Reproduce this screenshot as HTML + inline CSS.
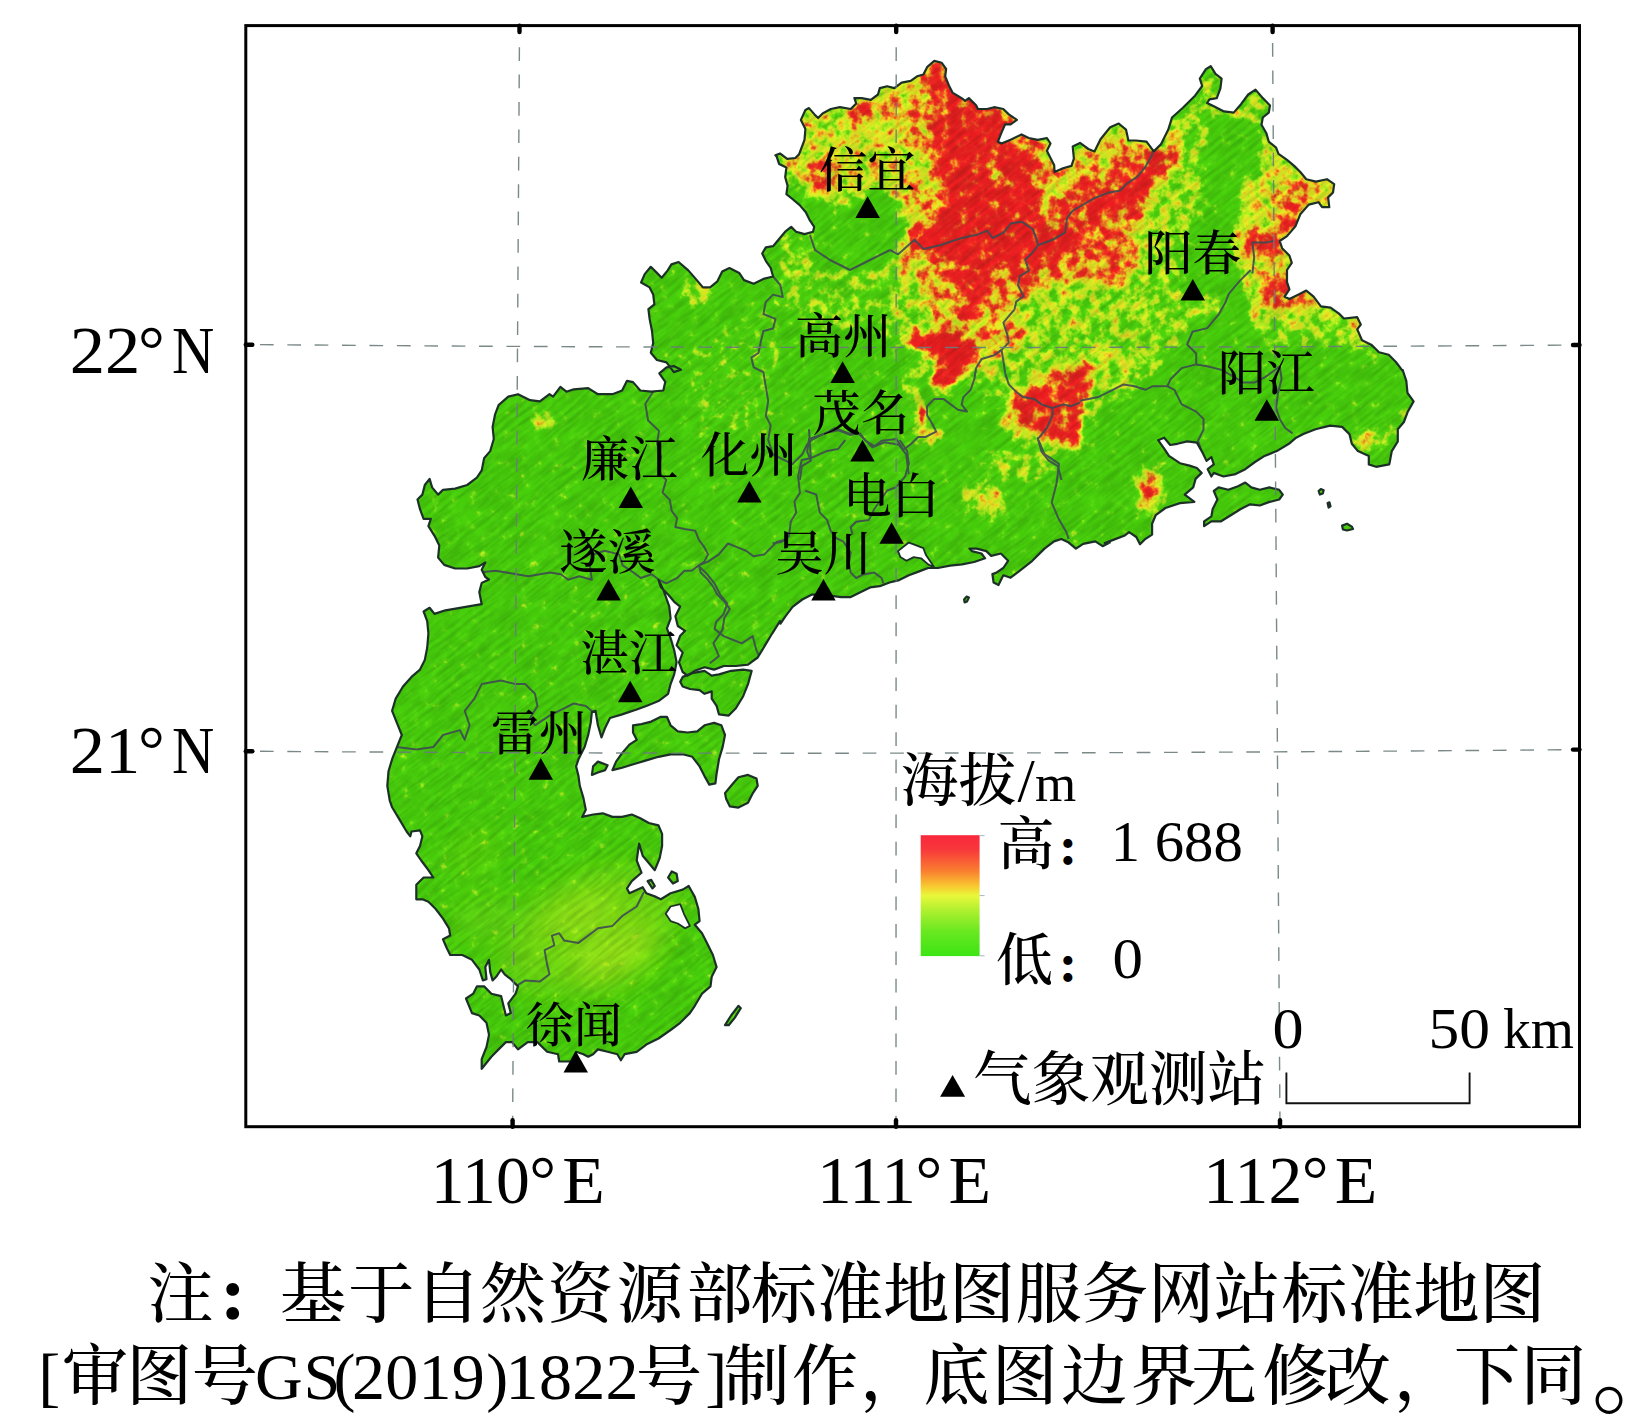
<!DOCTYPE html>
<html lang="zh"><head><meta charset="utf-8"><title>map</title>
<style>
html,body{margin:0;padding:0;background:#fff;}
body{width:1652px;height:1421px;overflow:hidden;position:relative;}
svg{position:absolute;left:0;top:0;display:block;}
.cj{font-family:"Liberation Serif","Noto Serif CJK SC",serif;fill:#000;font-weight:500;}
.lt{font-family:"Liberation Serif",serif;fill:#000;}
</style></head><body>
<svg width="1652" height="1421" viewBox="0 0 1652 1421">
<defs>
<clipPath id="land"><path d="M775.4,155.3 L780.0,153.5 L787.2,158.9 L795.4,158.0 L799.0,154.4 L804.5,139.8 L805.4,129.0 L800.9,119.9 L805.4,109.9 L809.0,108.1 L814.5,114.4 L818.1,118.1 L822.6,113.5 L830.8,109.0 L839.9,107.2 L850.8,109.0 L856.2,103.5 L854.4,98.1 L861.7,98.1 L870.8,99.9 L878.0,94.5 L879.8,88.1 L887.1,86.3 L894.4,88.1 L901.6,82.6 L910.7,80.8 L917.1,76.3 L923.4,74.5 L927.1,67.2 L934.3,60.9 L941.6,62.7 L946.1,69.0 L945.2,76.3 L948.9,85.4 L952.5,92.6 L961.6,98.1 L965.2,100.8 L968.8,98.1 L976.1,105.3 L977.9,109.0 L987.0,109.0 L994.2,107.2 L1003.3,109.0 L1008.8,114.4 L1016.9,119.9 L1010.6,124.4 L1005.1,124.4 L1001.5,132.6 L997.9,141.7 L1001.5,143.5 L1010.6,139.8 L1021.5,134.4 L1028.7,138.0 L1037.8,139.8 L1046.9,138.0 L1050.5,143.5 L1046.9,150.7 L1050.5,158.0 L1054.2,165.3 L1054.5,172.0 L1063.0,168.3 L1071.5,165.9 L1073.9,158.6 L1072.7,146.5 L1080.0,142.9 L1088.4,149.0 L1094.5,151.4 L1100.5,139.3 L1110.2,127.2 L1118.7,123.5 L1126.0,129.6 L1128.4,140.5 L1135.6,140.5 L1146.5,141.7 L1153.8,151.4 L1161.1,144.1 L1168.3,129.6 L1172.0,117.5 L1182.9,107.8 L1195.0,95.7 L1202.2,86.0 L1199.8,78.7 L1205.9,69.1 L1210.7,66.2 L1215.5,73.9 L1221.6,78.7 L1220.4,88.4 L1216.8,98.1 L1209.5,99.3 L1207.1,103.0 L1214.3,106.6 L1224.0,111.4 L1233.7,112.6 L1241.0,104.2 L1248.2,94.5 L1255.5,89.6 L1262.8,98.1 L1270.0,105.4 L1268.8,112.6 L1262.8,117.5 L1261.5,124.7 L1266.4,133.2 L1268.8,141.7 L1276.1,147.7 L1278.5,153.8 L1287.0,159.9 L1294.2,165.9 L1300.3,172.0 L1306.3,179.2 L1316.0,181.6 L1326.9,179.2 L1334.2,184.1 L1333.0,192.5 L1328.1,197.4 L1329.3,207.1 L1322.1,207.1 L1318.5,202.2 L1308.8,204.6 L1300.3,214.3 L1295.4,226.4 L1287.0,236.1 L1279.7,241.0 L1282.1,248.2 L1289.4,255.5 L1291.8,262.8 L1287.0,270.0 L1287.0,282.1 L1289.4,289.4 L1284.6,296.7 L1289.4,299.1 L1299.1,294.2 L1306.3,290.6 L1313.6,296.7 L1320.9,306.3 L1330.6,307.6 L1339.0,313.6 L1343.9,318.5 L1357.2,317.2 L1360.8,324.5 L1357.2,329.3 L1362.0,340.2 L1371.7,345.1 L1379.0,352.3 L1388.7,354.8 L1395.9,362.0 L1403.2,371.7 L1402.7,370.0 L1406.3,380.8 L1407.5,393.0 L1413.6,401.4 L1407.5,412.3 L1403.9,422.0 L1397.8,429.3 L1397.8,441.4 L1391.8,451.1 L1389.3,464.4 L1376.0,466.8 L1368.8,464.4 L1368.8,455.9 L1357.9,451.1 L1351.8,443.8 L1349.4,434.1 L1342.1,426.9 L1330.0,425.6 L1315.5,429.3 L1303.4,434.1 L1296.1,437.7 L1288.9,443.8 L1276.8,451.1 L1264.6,455.9 L1255.0,462.0 L1245.3,469.2 L1235.6,474.1 L1223.5,476.5 L1213.8,472.9 L1211.4,476.5 L1207.7,469.2 L1213.8,464.4 L1211.4,457.1 L1206.5,460.8 L1201.7,451.1 L1196.9,442.6 L1187.2,441.4 L1177.5,443.8 L1170.2,445.0 L1164.2,437.7 L1158.1,440.2 L1164.2,448.6 L1169.0,455.9 L1179.9,463.2 L1189.6,465.6 L1196.9,468.0 L1201.7,472.9 L1195.6,478.9 L1193.2,487.4 L1184.7,494.6 L1194.4,501.9 L1179.9,503.1 L1165.4,508.0 L1155.7,515.2 L1152.1,523.7 L1152.1,534.6 L1144.8,539.4 L1140.0,544.3 L1136.3,537.0 L1129.1,532.2 L1124.2,535.8 L1114.5,539.4 L1104.8,543.1 L1109.8,542.6 L1102.6,546.2 L1095.3,541.4 L1083.2,543.8 L1075.9,548.6 L1068.7,542.6 L1061.4,539.0 L1054.1,541.4 L1044.5,548.6 L1032.3,560.8 L1020.2,570.4 L1010.6,577.7 L1003.3,575.3 L998.5,585.0 L993.6,582.5 L992.4,574.1 L996.0,572.9 L1003.3,568.0 L1008.1,560.8 L1000.9,553.5 L991.2,555.9 L986.3,551.1 L976.7,548.6 L969.4,548.6 L971.8,551.1 L981.5,553.5 L985.1,558.3 L974.2,562.0 L962.1,564.4 L950.0,565.6 L937.9,568.0 L928.2,568.0 L918.5,571.6 L908.9,575.3 L899.2,580.1 L889.5,582.5 L879.8,586.2 L870.1,587.4 L860.4,592.2 L850.8,597.1 L841.1,597.1 L831.4,595.9 L821.7,594.6 L812.0,594.6 L802.3,599.5 L792.6,606.8 L785.4,616.4 L780.5,623.7 L780.0,621.2 L772.3,633.3 L765.0,645.4 L757.7,657.5 L748.0,664.7 L735.9,666.0 L723.8,666.0 L714.1,669.6 L704.5,667.2 L694.8,670.8 L687.5,675.6 L682.7,672.0 L679.0,662.3 L682.7,652.6 L676.6,645.4 L680.2,635.7 L685.1,630.8 L677.8,626.0 L675.4,616.3 L680.2,606.6 L674.2,601.8 L668.1,594.5 L660.9,587.3 L658.5,580.0 L663.3,589.7 L669.3,606.6 L670.6,618.7 L666.9,628.4 L670.6,638.1 L674.2,650.2 L676.6,662.3 L674.2,674.4 L670.6,684.1 L668.1,693.8 L658.5,701.1 L646.3,705.9 L636.7,709.5 L622.1,714.4 L610.0,718.0 L605.2,727.7 L601.5,737.4 L597.9,725.3 L595.5,710.8 L591.9,712.0 L590.7,722.9 L588.2,735.0 L584.6,747.1 L578.5,759.2 L576.1,766.4 L578.5,776.1 L579.8,785.8 L583.4,797.9 L585.8,809.7 L582.2,816.9 L593.1,814.5 L602.8,813.3 L612.4,816.9 L622.1,816.9 L631.8,814.5 L640.3,818.2 L648.8,823.0 L658.5,825.4 L662.1,833.9 L662.1,846.0 L659.7,858.1 L654.8,870.2 L648.8,863.0 L642.7,855.7 L639.1,843.6 L636.7,860.5 L641.5,872.6 L631.8,881.1 L627.0,888.4 L629.4,893.2 L642.7,887.2 L646.3,893.2 L656.0,896.9 L660.9,899.3 L670.6,893.2 L682.7,889.6 L688.7,886.0 L694.8,896.9 L698.4,909.0 L699.6,921.1 L694.8,924.7 L702.0,933.2 L708.1,945.3 L712.9,955.0 L716.6,967.1 L711.7,976.8 L710.5,986.4 L702.0,993.7 L694.8,1005.8 L689.9,1013.1 L680.2,1022.8 L670.6,1030.0 L658.5,1038.5 L646.3,1044.6 L636.7,1051.8 L624.6,1054.2 L620.9,1060.3 L617.3,1054.2 L607.6,1051.8 L597.9,1049.4 L593.1,1054.2 L588.2,1056.7 L583.4,1054.2 L576.1,1051.8 L571.3,1061.5 L559.2,1061.5 L558.0,1054.2 L547.1,1051.8 L537.4,1042.1 L527.7,1042.1 L518.0,1049.4 L512.0,1042.1 L505.9,1042.1 L498.6,1049.4 L491.4,1056.7 L481.7,1068.8 L481.7,1059.1 L486.5,1047.0 L489.0,1034.9 L486.5,1022.8 L479.3,1015.5 L472.0,1013.1 L466.0,998.5 L473.2,993.7 L476.9,986.4 L484.1,986.4 L491.4,993.7 L501.1,996.1 L503.5,1005.8 L505.9,1015.5 L510.8,1013.1 L508.3,1003.4 L515.6,993.7 L518.0,986.4 L510.8,979.2 L504.7,974.3 L501.1,969.5 L496.2,976.8 L492.6,980.4 L490.2,971.9 L489.0,959.8 L485.3,967.1 L486.5,979.2 L482.9,980.4 L479.3,969.5 L472.0,959.8 L462.3,955.0 L450.2,955.0 L446.6,947.7 L443.0,939.2 L450.2,935.6 L449.0,928.3 L443.0,918.6 L435.7,909.0 L428.4,901.7 L422.4,899.3 L416.3,899.3 L416.3,884.7 L423.6,877.5 L433.3,877.5 L428.4,870.2 L421.2,860.5 L416.3,853.3 L420.0,846.0 L422.4,836.3 L420.0,830.3 L411.5,831.5 L410.3,836.3 L406.6,831.5 L399.4,819.4 L392.1,807.3 L389.7,800.3 L387.3,785.8 L388.5,771.3 L392.1,759.2 L396.9,747.1 L401.8,735.0 L396.9,722.9 L392.1,710.8 L395.7,698.6 L403.0,686.5 L411.5,676.9 L420.0,669.6 L424.8,659.9 L427.2,647.8 L428.4,633.3 L427.2,621.2 L423.6,611.5 L429.6,607.8 L434.5,613.9 L445.4,610.3 L459.9,607.8 L474.4,605.4 L481.7,604.2 L479.3,592.1 L481.7,583.0 L489.0,579.4 L485.3,577.0 L481.7,569.7 L485.3,562.4 L479.3,566.1 L467.2,568.5 L455.1,568.5 L444.2,564.9 L438.1,557.6 L439.3,545.5 L434.5,535.8 L428.4,526.1 L430.8,518.9 L423.6,518.9 L420.0,509.2 L417.5,499.5 L422.4,494.6 L424.8,485.0 L429.6,478.9 L432.1,487.4 L438.1,494.6 L443.0,489.8 L455.1,488.6 L467.2,485.0 L476.9,477.7 L481.7,470.4 L484.1,458.3 L490.2,451.1 L493.8,439.0 L492.6,426.9 L495.0,414.7 L498.6,405.1 L508.3,396.6 L518.0,394.2 L530.1,400.2 L539.8,401.4 L549.5,394.2 L553.1,396.6 L560.4,386.9 L566.4,391.7 L573.7,389.3 L588.2,388.1 L597.9,394.2 L612.4,394.2 L622.1,390.5 L627.0,380.8 L633.0,382.1 L640.3,390.5 L651.2,391.7 L663.3,390.5 L665.3,381.8 L659.3,373.3 L666.5,367.3 L673.8,366.1 L681.1,369.7 L673.8,372.1 L666.5,362.4 L656.9,360.0 L650.8,352.8 L653.2,343.1 L652.0,331.0 L649.6,318.9 L648.4,309.2 L654.4,304.3 L653.2,294.6 L649.6,287.4 L641.1,282.5 L644.7,274.1 L650.8,266.8 L656.9,272.9 L661.7,277.7 L667.7,270.4 L671.4,264.4 L678.6,262.0 L688.3,270.4 L696.8,280.1 L702.9,287.4 L710.1,287.4 L717.4,281.3 L722.2,271.6 L729.5,268.0 L739.2,272.9 L744.0,280.1 L753.7,283.8 L763.4,278.9 L773.1,276.5 L770.7,268.0 L765.8,260.8 L762.2,253.5 L765.8,247.4 L773.1,246.2 L779.1,239.0 L785.2,231.7 L791.2,226.9 L796.1,231.7 L804.6,234.1 L813.0,231.7 L814.2,226.9 L809.4,219.6 L805.8,212.3 L799.7,205.1 L792.4,199.0 L786.4,194.2 L787.6,185.7 L785.2,177.2 L786.4,167.5 L779.1,163.9 L776.7,156.6Z"/>
<path d="M1213.8,491.0 L1218.6,487.4 L1228.3,489.8 L1238.0,486.2 L1245.3,482.5 L1251.3,487.4 L1259.8,489.8 L1269.5,487.4 L1279.2,489.8 L1282.8,494.6 L1279.2,499.5 L1269.5,501.9 L1259.8,505.5 L1250.1,504.3 L1240.4,509.2 L1230.8,515.2 L1221.1,521.3 L1211.4,521.3 L1204.1,526.1 L1204.1,521.3 L1211.4,516.4 L1212.6,509.2 L1217.4,499.5Z"/>
<path d="M1318.6,491.0 L1320.8,489.1 L1323.7,490.3 L1322.8,493.4 L1319.9,494.6Z"/>
<path d="M1327.6,503.1 L1329.5,502.4 L1330.5,506.3 L1328.6,507.5Z"/>
<path d="M1342.1,525.6 L1347.0,523.7 L1351.8,526.6 L1353.0,529.0 L1347.0,530.5 L1342.9,529.5Z"/>
<path d="M964.1,599.5 L966.5,596.6 L968.9,597.6 L967.0,601.4 L964.6,602.4Z"/>
<path d="M682.7,676.9 L692.3,673.2 L704.5,670.8 L711.7,675.6 L719.0,674.4 L731.1,670.8 L743.2,669.6 L751.7,670.8 L748.0,684.1 L743.2,696.2 L735.9,708.3 L728.7,715.6 L719.0,714.4 L716.6,705.9 L711.7,698.6 L711.7,691.4 L704.5,693.8 L699.6,690.2 L689.9,689.0 L682.7,686.5 L680.2,681.7Z"/>
<path d="M633.0,725.3 L641.5,724.1 L651.2,721.6 L660.9,716.8 L666.9,716.8 L670.6,725.3 L677.8,731.3 L687.5,732.5 L697.2,731.3 L704.5,725.3 L714.1,722.9 L721.4,725.3 L725.0,735.0 L722.6,747.1 L719.0,759.2 L716.6,773.7 L715.4,783.4 L709.3,784.6 L704.5,776.1 L699.6,766.4 L692.3,756.8 L682.7,754.3 L670.6,754.3 L658.5,756.8 L646.3,760.4 L634.2,764.0 L622.1,767.7 L612.4,770.1 L616.1,761.6 L622.1,753.1 L629.4,744.6 L636.7,739.8 L633.0,732.5Z"/>
<path d="M593.1,766.4 L597.9,761.6 L607.6,765.2 L605.2,770.1 L597.9,772.5 L591.9,774.9Z"/>
<path d="M725.0,793.1 L731.1,785.8 L738.4,777.3 L748.0,774.9 L756.5,778.5 L757.7,785.8 L752.9,793.1 L748.0,802.8 L738.4,807.6 L729.9,806.4 L726.2,799.1Z"/>
<path d="M725.0,1025.2 L731.1,1015.5 L738.4,1005.8 L740.8,1008.2 L734.7,1017.9 L728.7,1025.2Z"/>
<path d="M668.1,877.5 L671.8,871.4 L676.6,873.8 L677.8,881.1 L673.0,883.5Z"/>
<path d="M647.6,881.1 L651.2,879.9 L654.8,886.0 L652.4,888.4Z"/>
</clipPath>
<linearGradient id="lg" x1="0" y1="0" x2="0" y2="1">
<stop offset="0" stop-color="#f8283c"/><stop offset="0.12" stop-color="#f8383a"/><stop offset="0.3" stop-color="#fa8030"/><stop offset="0.42" stop-color="#f8c830"/><stop offset="0.5" stop-color="#e8f83a"/><stop offset="0.62" stop-color="#b0f030"/><stop offset="0.8" stop-color="#68e820"/><stop offset="1" stop-color="#3ce414"/></linearGradient>
<filter id="b14" x="300" y="0" width="1200" height="1130" filterUnits="userSpaceOnUse"><feGaussianBlur stdDeviation="14"/></filter>
<filter id="streak" x="-1200" y="-200" width="3200" height="2600" filterUnits="userSpaceOnUse" color-interpolation-filters="sRGB">
<feTurbulence type="fractalNoise" baseFrequency="0.03 0.26" numOctaves="2" seed="11"/>
<feColorMatrix type="matrix" values="0 0 0 0 0.02  0 0 0 0 0.12  0 0 0 0 0.02  2.2 0 0 0 -0.75"/>
</filter>
<filter id="dem" x="300" y="0" width="1200" height="1130" filterUnits="userSpaceOnUse" color-interpolation-filters="sRGB">
<feGaussianBlur in="SourceGraphic" stdDeviation="5" result="e"/>
<feTurbulence type="fractalNoise" baseFrequency="0.1" numOctaves="3" seed="3" result="n"/>
<feColorMatrix in="n" type="matrix" values="1 0 0 0 0  1 0 0 0 0  1 0 0 0 0  0 0 0 0 1" result="ng"/>
<feComposite in="e" in2="ng" operator="arithmetic" k1="0" k2="0.8" k3="0.7" k4="-0.3" result="h"/>
<feComponentTransfer in="h">
<feFuncR type="table" tableValues="0.282 0.290 0.298 0.310 0.337 0.471 0.675 0.800 0.878 0.933 0.965 0.969 0.961 0.953 0.945 0.941 0.933 0.922 0.910 0.902 0.894"/>
<feFuncG type="table" tableValues="0.808 0.820 0.827 0.835 0.851 0.894 0.933 0.945 0.941 0.894 0.745 0.518 0.298 0.180 0.141 0.125 0.118 0.114 0.110 0.110 0.110"/>
<feFuncB type="table" tableValues="0.047 0.051 0.055 0.055 0.063 0.086 0.118 0.137 0.145 0.145 0.141 0.141 0.141 0.141 0.137 0.133 0.129 0.125 0.122 0.118 0.118"/>
</feComponentTransfer>
</filter>
</defs>
<rect width="1652" height="1421" fill="#fff"/>
<g fill="#50d410">
<path d="M775.4,155.3 L780.0,153.5 L787.2,158.9 L795.4,158.0 L799.0,154.4 L804.5,139.8 L805.4,129.0 L800.9,119.9 L805.4,109.9 L809.0,108.1 L814.5,114.4 L818.1,118.1 L822.6,113.5 L830.8,109.0 L839.9,107.2 L850.8,109.0 L856.2,103.5 L854.4,98.1 L861.7,98.1 L870.8,99.9 L878.0,94.5 L879.8,88.1 L887.1,86.3 L894.4,88.1 L901.6,82.6 L910.7,80.8 L917.1,76.3 L923.4,74.5 L927.1,67.2 L934.3,60.9 L941.6,62.7 L946.1,69.0 L945.2,76.3 L948.9,85.4 L952.5,92.6 L961.6,98.1 L965.2,100.8 L968.8,98.1 L976.1,105.3 L977.9,109.0 L987.0,109.0 L994.2,107.2 L1003.3,109.0 L1008.8,114.4 L1016.9,119.9 L1010.6,124.4 L1005.1,124.4 L1001.5,132.6 L997.9,141.7 L1001.5,143.5 L1010.6,139.8 L1021.5,134.4 L1028.7,138.0 L1037.8,139.8 L1046.9,138.0 L1050.5,143.5 L1046.9,150.7 L1050.5,158.0 L1054.2,165.3 L1054.5,172.0 L1063.0,168.3 L1071.5,165.9 L1073.9,158.6 L1072.7,146.5 L1080.0,142.9 L1088.4,149.0 L1094.5,151.4 L1100.5,139.3 L1110.2,127.2 L1118.7,123.5 L1126.0,129.6 L1128.4,140.5 L1135.6,140.5 L1146.5,141.7 L1153.8,151.4 L1161.1,144.1 L1168.3,129.6 L1172.0,117.5 L1182.9,107.8 L1195.0,95.7 L1202.2,86.0 L1199.8,78.7 L1205.9,69.1 L1210.7,66.2 L1215.5,73.9 L1221.6,78.7 L1220.4,88.4 L1216.8,98.1 L1209.5,99.3 L1207.1,103.0 L1214.3,106.6 L1224.0,111.4 L1233.7,112.6 L1241.0,104.2 L1248.2,94.5 L1255.5,89.6 L1262.8,98.1 L1270.0,105.4 L1268.8,112.6 L1262.8,117.5 L1261.5,124.7 L1266.4,133.2 L1268.8,141.7 L1276.1,147.7 L1278.5,153.8 L1287.0,159.9 L1294.2,165.9 L1300.3,172.0 L1306.3,179.2 L1316.0,181.6 L1326.9,179.2 L1334.2,184.1 L1333.0,192.5 L1328.1,197.4 L1329.3,207.1 L1322.1,207.1 L1318.5,202.2 L1308.8,204.6 L1300.3,214.3 L1295.4,226.4 L1287.0,236.1 L1279.7,241.0 L1282.1,248.2 L1289.4,255.5 L1291.8,262.8 L1287.0,270.0 L1287.0,282.1 L1289.4,289.4 L1284.6,296.7 L1289.4,299.1 L1299.1,294.2 L1306.3,290.6 L1313.6,296.7 L1320.9,306.3 L1330.6,307.6 L1339.0,313.6 L1343.9,318.5 L1357.2,317.2 L1360.8,324.5 L1357.2,329.3 L1362.0,340.2 L1371.7,345.1 L1379.0,352.3 L1388.7,354.8 L1395.9,362.0 L1403.2,371.7 L1402.7,370.0 L1406.3,380.8 L1407.5,393.0 L1413.6,401.4 L1407.5,412.3 L1403.9,422.0 L1397.8,429.3 L1397.8,441.4 L1391.8,451.1 L1389.3,464.4 L1376.0,466.8 L1368.8,464.4 L1368.8,455.9 L1357.9,451.1 L1351.8,443.8 L1349.4,434.1 L1342.1,426.9 L1330.0,425.6 L1315.5,429.3 L1303.4,434.1 L1296.1,437.7 L1288.9,443.8 L1276.8,451.1 L1264.6,455.9 L1255.0,462.0 L1245.3,469.2 L1235.6,474.1 L1223.5,476.5 L1213.8,472.9 L1211.4,476.5 L1207.7,469.2 L1213.8,464.4 L1211.4,457.1 L1206.5,460.8 L1201.7,451.1 L1196.9,442.6 L1187.2,441.4 L1177.5,443.8 L1170.2,445.0 L1164.2,437.7 L1158.1,440.2 L1164.2,448.6 L1169.0,455.9 L1179.9,463.2 L1189.6,465.6 L1196.9,468.0 L1201.7,472.9 L1195.6,478.9 L1193.2,487.4 L1184.7,494.6 L1194.4,501.9 L1179.9,503.1 L1165.4,508.0 L1155.7,515.2 L1152.1,523.7 L1152.1,534.6 L1144.8,539.4 L1140.0,544.3 L1136.3,537.0 L1129.1,532.2 L1124.2,535.8 L1114.5,539.4 L1104.8,543.1 L1109.8,542.6 L1102.6,546.2 L1095.3,541.4 L1083.2,543.8 L1075.9,548.6 L1068.7,542.6 L1061.4,539.0 L1054.1,541.4 L1044.5,548.6 L1032.3,560.8 L1020.2,570.4 L1010.6,577.7 L1003.3,575.3 L998.5,585.0 L993.6,582.5 L992.4,574.1 L996.0,572.9 L1003.3,568.0 L1008.1,560.8 L1000.9,553.5 L991.2,555.9 L986.3,551.1 L976.7,548.6 L969.4,548.6 L971.8,551.1 L981.5,553.5 L985.1,558.3 L974.2,562.0 L962.1,564.4 L950.0,565.6 L937.9,568.0 L928.2,568.0 L918.5,571.6 L908.9,575.3 L899.2,580.1 L889.5,582.5 L879.8,586.2 L870.1,587.4 L860.4,592.2 L850.8,597.1 L841.1,597.1 L831.4,595.9 L821.7,594.6 L812.0,594.6 L802.3,599.5 L792.6,606.8 L785.4,616.4 L780.5,623.7 L780.0,621.2 L772.3,633.3 L765.0,645.4 L757.7,657.5 L748.0,664.7 L735.9,666.0 L723.8,666.0 L714.1,669.6 L704.5,667.2 L694.8,670.8 L687.5,675.6 L682.7,672.0 L679.0,662.3 L682.7,652.6 L676.6,645.4 L680.2,635.7 L685.1,630.8 L677.8,626.0 L675.4,616.3 L680.2,606.6 L674.2,601.8 L668.1,594.5 L660.9,587.3 L658.5,580.0 L663.3,589.7 L669.3,606.6 L670.6,618.7 L666.9,628.4 L670.6,638.1 L674.2,650.2 L676.6,662.3 L674.2,674.4 L670.6,684.1 L668.1,693.8 L658.5,701.1 L646.3,705.9 L636.7,709.5 L622.1,714.4 L610.0,718.0 L605.2,727.7 L601.5,737.4 L597.9,725.3 L595.5,710.8 L591.9,712.0 L590.7,722.9 L588.2,735.0 L584.6,747.1 L578.5,759.2 L576.1,766.4 L578.5,776.1 L579.8,785.8 L583.4,797.9 L585.8,809.7 L582.2,816.9 L593.1,814.5 L602.8,813.3 L612.4,816.9 L622.1,816.9 L631.8,814.5 L640.3,818.2 L648.8,823.0 L658.5,825.4 L662.1,833.9 L662.1,846.0 L659.7,858.1 L654.8,870.2 L648.8,863.0 L642.7,855.7 L639.1,843.6 L636.7,860.5 L641.5,872.6 L631.8,881.1 L627.0,888.4 L629.4,893.2 L642.7,887.2 L646.3,893.2 L656.0,896.9 L660.9,899.3 L670.6,893.2 L682.7,889.6 L688.7,886.0 L694.8,896.9 L698.4,909.0 L699.6,921.1 L694.8,924.7 L702.0,933.2 L708.1,945.3 L712.9,955.0 L716.6,967.1 L711.7,976.8 L710.5,986.4 L702.0,993.7 L694.8,1005.8 L689.9,1013.1 L680.2,1022.8 L670.6,1030.0 L658.5,1038.5 L646.3,1044.6 L636.7,1051.8 L624.6,1054.2 L620.9,1060.3 L617.3,1054.2 L607.6,1051.8 L597.9,1049.4 L593.1,1054.2 L588.2,1056.7 L583.4,1054.2 L576.1,1051.8 L571.3,1061.5 L559.2,1061.5 L558.0,1054.2 L547.1,1051.8 L537.4,1042.1 L527.7,1042.1 L518.0,1049.4 L512.0,1042.1 L505.9,1042.1 L498.6,1049.4 L491.4,1056.7 L481.7,1068.8 L481.7,1059.1 L486.5,1047.0 L489.0,1034.9 L486.5,1022.8 L479.3,1015.5 L472.0,1013.1 L466.0,998.5 L473.2,993.7 L476.9,986.4 L484.1,986.4 L491.4,993.7 L501.1,996.1 L503.5,1005.8 L505.9,1015.5 L510.8,1013.1 L508.3,1003.4 L515.6,993.7 L518.0,986.4 L510.8,979.2 L504.7,974.3 L501.1,969.5 L496.2,976.8 L492.6,980.4 L490.2,971.9 L489.0,959.8 L485.3,967.1 L486.5,979.2 L482.9,980.4 L479.3,969.5 L472.0,959.8 L462.3,955.0 L450.2,955.0 L446.6,947.7 L443.0,939.2 L450.2,935.6 L449.0,928.3 L443.0,918.6 L435.7,909.0 L428.4,901.7 L422.4,899.3 L416.3,899.3 L416.3,884.7 L423.6,877.5 L433.3,877.5 L428.4,870.2 L421.2,860.5 L416.3,853.3 L420.0,846.0 L422.4,836.3 L420.0,830.3 L411.5,831.5 L410.3,836.3 L406.6,831.5 L399.4,819.4 L392.1,807.3 L389.7,800.3 L387.3,785.8 L388.5,771.3 L392.1,759.2 L396.9,747.1 L401.8,735.0 L396.9,722.9 L392.1,710.8 L395.7,698.6 L403.0,686.5 L411.5,676.9 L420.0,669.6 L424.8,659.9 L427.2,647.8 L428.4,633.3 L427.2,621.2 L423.6,611.5 L429.6,607.8 L434.5,613.9 L445.4,610.3 L459.9,607.8 L474.4,605.4 L481.7,604.2 L479.3,592.1 L481.7,583.0 L489.0,579.4 L485.3,577.0 L481.7,569.7 L485.3,562.4 L479.3,566.1 L467.2,568.5 L455.1,568.5 L444.2,564.9 L438.1,557.6 L439.3,545.5 L434.5,535.8 L428.4,526.1 L430.8,518.9 L423.6,518.9 L420.0,509.2 L417.5,499.5 L422.4,494.6 L424.8,485.0 L429.6,478.9 L432.1,487.4 L438.1,494.6 L443.0,489.8 L455.1,488.6 L467.2,485.0 L476.9,477.7 L481.7,470.4 L484.1,458.3 L490.2,451.1 L493.8,439.0 L492.6,426.9 L495.0,414.7 L498.6,405.1 L508.3,396.6 L518.0,394.2 L530.1,400.2 L539.8,401.4 L549.5,394.2 L553.1,396.6 L560.4,386.9 L566.4,391.7 L573.7,389.3 L588.2,388.1 L597.9,394.2 L612.4,394.2 L622.1,390.5 L627.0,380.8 L633.0,382.1 L640.3,390.5 L651.2,391.7 L663.3,390.5 L665.3,381.8 L659.3,373.3 L666.5,367.3 L673.8,366.1 L681.1,369.7 L673.8,372.1 L666.5,362.4 L656.9,360.0 L650.8,352.8 L653.2,343.1 L652.0,331.0 L649.6,318.9 L648.4,309.2 L654.4,304.3 L653.2,294.6 L649.6,287.4 L641.1,282.5 L644.7,274.1 L650.8,266.8 L656.9,272.9 L661.7,277.7 L667.7,270.4 L671.4,264.4 L678.6,262.0 L688.3,270.4 L696.8,280.1 L702.9,287.4 L710.1,287.4 L717.4,281.3 L722.2,271.6 L729.5,268.0 L739.2,272.9 L744.0,280.1 L753.7,283.8 L763.4,278.9 L773.1,276.5 L770.7,268.0 L765.8,260.8 L762.2,253.5 L765.8,247.4 L773.1,246.2 L779.1,239.0 L785.2,231.7 L791.2,226.9 L796.1,231.7 L804.6,234.1 L813.0,231.7 L814.2,226.9 L809.4,219.6 L805.8,212.3 L799.7,205.1 L792.4,199.0 L786.4,194.2 L787.6,185.7 L785.2,177.2 L786.4,167.5 L779.1,163.9 L776.7,156.6Z"/>
<path d="M1213.8,491.0 L1218.6,487.4 L1228.3,489.8 L1238.0,486.2 L1245.3,482.5 L1251.3,487.4 L1259.8,489.8 L1269.5,487.4 L1279.2,489.8 L1282.8,494.6 L1279.2,499.5 L1269.5,501.9 L1259.8,505.5 L1250.1,504.3 L1240.4,509.2 L1230.8,515.2 L1221.1,521.3 L1211.4,521.3 L1204.1,526.1 L1204.1,521.3 L1211.4,516.4 L1212.6,509.2 L1217.4,499.5Z"/>
<path d="M1318.6,491.0 L1320.8,489.1 L1323.7,490.3 L1322.8,493.4 L1319.9,494.6Z"/>
<path d="M1327.6,503.1 L1329.5,502.4 L1330.5,506.3 L1328.6,507.5Z"/>
<path d="M1342.1,525.6 L1347.0,523.7 L1351.8,526.6 L1353.0,529.0 L1347.0,530.5 L1342.9,529.5Z"/>
<path d="M964.1,599.5 L966.5,596.6 L968.9,597.6 L967.0,601.4 L964.6,602.4Z"/>
<path d="M682.7,676.9 L692.3,673.2 L704.5,670.8 L711.7,675.6 L719.0,674.4 L731.1,670.8 L743.2,669.6 L751.7,670.8 L748.0,684.1 L743.2,696.2 L735.9,708.3 L728.7,715.6 L719.0,714.4 L716.6,705.9 L711.7,698.6 L711.7,691.4 L704.5,693.8 L699.6,690.2 L689.9,689.0 L682.7,686.5 L680.2,681.7Z"/>
<path d="M633.0,725.3 L641.5,724.1 L651.2,721.6 L660.9,716.8 L666.9,716.8 L670.6,725.3 L677.8,731.3 L687.5,732.5 L697.2,731.3 L704.5,725.3 L714.1,722.9 L721.4,725.3 L725.0,735.0 L722.6,747.1 L719.0,759.2 L716.6,773.7 L715.4,783.4 L709.3,784.6 L704.5,776.1 L699.6,766.4 L692.3,756.8 L682.7,754.3 L670.6,754.3 L658.5,756.8 L646.3,760.4 L634.2,764.0 L622.1,767.7 L612.4,770.1 L616.1,761.6 L622.1,753.1 L629.4,744.6 L636.7,739.8 L633.0,732.5Z"/>
<path d="M593.1,766.4 L597.9,761.6 L607.6,765.2 L605.2,770.1 L597.9,772.5 L591.9,774.9Z"/>
<path d="M725.0,793.1 L731.1,785.8 L738.4,777.3 L748.0,774.9 L756.5,778.5 L757.7,785.8 L752.9,793.1 L748.0,802.8 L738.4,807.6 L729.9,806.4 L726.2,799.1Z"/>
<path d="M725.0,1025.2 L731.1,1015.5 L738.4,1005.8 L740.8,1008.2 L734.7,1017.9 L728.7,1025.2Z"/>
<path d="M668.1,877.5 L671.8,871.4 L676.6,873.8 L677.8,881.1 L673.0,883.5Z"/>
<path d="M647.6,881.1 L651.2,879.9 L654.8,886.0 L652.4,888.4Z"/>
</g>
<g clip-path="url(#land)"><g filter="url(#dem)">
<rect x="300" y="0" width="1200" height="1130" fill="#000"/>
<path d="M880,260 L1180,250 L1190,330 L1130,400 L1060,430 L1010,400 L960,380 L900,350 L880,320Z" fill="rgb(64,64,64)" stroke="rgb(64,64,64)" stroke-width="0" stroke-linejoin="round"/>
<path d="M1270,110 L1300,150 L1330,170 L1340,240 L1380,330 L1400,360 L1300,340 L1250,330 L1240,260 L1250,200Z" fill="rgb(76,76,76)" stroke="rgb(76,76,76)" stroke-width="0" stroke-linejoin="round"/>
<path d="M780.0,270.0 L889.0,270.0 L889.0,324.5 L834.5,329.9 L780.0,315.4Z" fill="rgb(56,56,56)" stroke="rgb(56,56,56)" stroke-width="0" stroke-linejoin="round"/>
<path d="M898.0,270.0 L943.4,270.0 L943.4,333.6 L907.1,331.7 L898.0,306.3Z" fill="rgb(76,76,76)" stroke="rgb(76,76,76)" stroke-width="0" stroke-linejoin="round"/>
<path d="M1021.5,288.2 L1080.0,288.2 L1080.0,371.7 L1034.2,379.0 L1016.1,360.8 L1008.8,324.5Z" fill="rgb(71,71,71)" stroke="rgb(71,71,71)" stroke-width="0" stroke-linejoin="round"/>
<path d="M988.8,451.6 L1052.4,451.6 L1052.4,479.9 L988.8,479.9Z" fill="rgb(76,76,76)" stroke="rgb(76,76,76)" stroke-width="0" stroke-linejoin="round"/>
<path d="M1080.0,275.4 L1143.6,275.4 L1143.6,328.1 L1080.0,328.1Z" fill="rgb(76,76,76)" stroke="rgb(76,76,76)" stroke-width="0" stroke-linejoin="round"/>
<path d="M780.0,154.4 L790.9,158.1 L800.0,150.8 L803.6,138.1 L800.0,119.9 L807.2,109.0 L818.1,114.5 L830.8,107.2 L852.6,103.6 L856.3,96.3 L874.4,99.9 L881.7,87.2 L896.2,87.2 L907.1,81.8 L918.0,76.3 L925.3,70.9 L936.2,61.8 L943.4,69.1 L947.1,87.2 L954.3,96.3 L943.4,147.2 L950.7,158.1 L939.8,190.7 L934.3,201.6 L910.7,210.7 L907.1,223.4 L896.2,198.0 L889.0,187.1 L870.8,187.1 L856.3,194.4 L839.9,205.3 L825.4,198.0 L812.7,194.4 L798.2,187.1 L787.3,176.2 L785.4,165.3Z" fill="rgb(107,107,107)" stroke="rgb(107,107,107)" stroke-width="5" stroke-linejoin="round"/>
<path d="M780.0,234.3 L816.3,234.3 L816.3,269.9 L780.0,269.9Z" fill="rgb(64,64,64)" stroke="rgb(64,64,64)" stroke-width="0" stroke-linejoin="round"/>
<path d="M849.0,112.7 L852.6,103.6 L859.9,100.9 L874.4,102.7 L878.1,110.8 L870.8,119.9 L859.9,121.7 L852.6,119.9Z" fill="rgb(204,204,204)" stroke="rgb(204,204,204)" stroke-width="0" stroke-linejoin="round"/>
<path d="M807.2,169.0 L816.3,161.7 L830.8,161.7 L839.9,169.0 L838.1,183.5 L827.2,190.7 L814.5,190.7 L807.2,183.5Z" fill="rgb(178,178,178)" stroke="rgb(178,178,178)" stroke-width="0" stroke-linejoin="round"/>
<path d="M780.0,154.4 L790.9,158.1 L800.0,150.8 L801.8,156.2 L794.5,163.5 L783.6,163.5Z" fill="rgb(178,178,178)" stroke="rgb(178,178,178)" stroke-width="0" stroke-linejoin="round"/>
<path d="M889.0,92.7 L903.5,87.2 L918.0,80.0 L925.3,70.9 L936.2,61.8 L943.4,69.1 L947.1,87.2 L954.3,96.3 L938.0,96.3 L928.9,103.6 L925.3,118.1 L928.9,129.0 L936.2,136.3 L943.4,147.2 L936.2,154.4 L921.6,147.2 L907.1,143.5 L896.2,136.3 L889.0,121.7 L885.3,107.2Z" fill="rgb(140,140,140)" stroke="rgb(140,140,140)" stroke-width="5" stroke-linejoin="round"/>
<path d="M907.1,194.4 L918.0,187.1 L936.2,178.0 L939.8,190.7 L934.3,201.6 L921.6,205.3 L910.7,210.7 L907.1,223.4 L910.7,241.6 L918.0,250.7 L921.6,269.9 L899.8,269.9 L896.2,256.1 L903.5,241.6 L905.3,223.4Z" fill="rgb(153,153,153)" stroke="rgb(153,153,153)" stroke-width="0" stroke-linejoin="round"/>
<path d="M1080.0,145.3 L1098.2,139.9 L1103.6,129.0 L1121.8,121.7 L1127.2,132.6 L1130.8,141.7 L1139.9,139.9 L1130.8,147.2 L1116.3,161.7 L1103.6,158.1 L1090.9,161.7 L1080.0,172.6Z" fill="rgb(128,128,128)" stroke="rgb(128,128,128)" stroke-width="0" stroke-linejoin="round"/>
<path d="M1165.3,119.9 L1181.7,112.7 L1199.8,96.3 L1207.1,105.4 L1210.7,119.9 L1207.1,136.3 L1203.5,150.8 L1196.2,169.0 L1181.7,187.1 L1167.2,205.3 L1156.3,223.4 L1145.4,241.6 L1141.7,259.7 L1123.6,269.9 L1098.2,269.9 L1107.2,241.6 L1134.5,223.4 L1149.0,201.6 L1159.9,187.1 L1163.5,172.6 L1170.8,161.7 L1192.6,150.8 L1196.2,139.9 L1192.6,132.6 L1170.8,138.1 L1161.7,147.2 L1152.6,154.4 L1165.3,132.6Z" fill="rgb(76,76,76)" stroke="rgb(76,76,76)" stroke-width="0" stroke-linejoin="round"/>
<path d="M1276.1,150.8 L1287.0,161.7 L1297.9,169.0 L1308.8,178.0 L1323.3,179.8 L1334.2,185.3 L1330.6,194.4 L1327.0,203.5 L1316.1,203.5 L1305.2,205.3 L1297.9,214.3 L1296.1,227.1 L1288.8,234.3 L1279.7,241.6 L1285.2,252.5 L1290.6,259.7 L1290.6,269.9 L1239.8,269.9 L1243.4,241.6 L1254.3,230.7 L1261.6,216.2 L1268.9,198.0 L1272.5,176.2Z" fill="rgb(128,128,128)" stroke="rgb(128,128,128)" stroke-width="5" stroke-linejoin="round"/>
<path d="M1285.2,187.1 L1297.9,187.1 L1297.9,201.6 L1285.2,201.6Z" fill="rgb(204,204,204)" stroke="rgb(204,204,204)" stroke-width="0" stroke-linejoin="round"/>
<path d="M1243.4,232.5 L1272.5,232.5 L1272.5,243.4 L1243.4,243.4Z" fill="rgb(204,204,204)" stroke="rgb(204,204,204)" stroke-width="0" stroke-linejoin="round"/>
<path d="M1288.8,210.7 L1296.1,210.7 L1296.1,223.4 L1288.8,223.4Z" fill="rgb(191,191,191)" stroke="rgb(191,191,191)" stroke-width="0" stroke-linejoin="round"/>
<path d="M1307.0,176.2 L1334.2,176.2 L1334.2,187.1 L1307.0,187.1Z" fill="rgb(178,178,178)" stroke="rgb(178,178,178)" stroke-width="0" stroke-linejoin="round"/>
<path d="M1253.4,90.0 L1262.5,90.0 L1262.5,97.2 L1253.4,97.2Z" fill="rgb(153,153,153)" stroke="rgb(153,153,153)" stroke-width="0" stroke-linejoin="round"/>
<path d="M898.2,245.3 L927.2,248.9 L941.7,256.2 L967.2,270.7 L989.0,270.7 L1007.1,263.4 L1018.0,270.7 L1028.9,288.9 L1043.4,263.4 L1061.6,281.6 L1079.7,259.8 L1101.5,274.3 L1112.4,274.3 L1123.3,252.5 L1137.9,248.9 L1134.2,267.1 L1116.1,281.6 L1097.9,288.9 L1079.7,292.5 L1061.6,299.7 L1043.4,309.9 L934.5,309.9 L916.3,281.6 L898.2,263.4Z" fill="rgb(140,140,140)" stroke="rgb(140,140,140)" stroke-width="5" stroke-linejoin="round"/>
<path d="M1000.0,288.0 L1145.3,279.0 L1138.0,306.2 L1109.0,318.9 L1072.6,333.4 L1045.4,351.6 L1000.0,351.6Z" fill="rgb(76,76,76)" stroke="rgb(76,76,76)" stroke-width="0" stroke-linejoin="round"/>
<path d="M1145.3,170.0 L1207.0,170.0 L1199.7,224.5 L1181.6,242.6 L1145.3,279.0 L1141.6,224.5Z" fill="rgb(76,76,76)" stroke="rgb(76,76,76)" stroke-width="0" stroke-linejoin="round"/>
<path d="M1000.0,170.0 L1145.3,170.0 L1141.6,188.2 L1148.9,206.3 L1141.6,224.5 L1127.1,239.0 L1134.4,257.2 L1127.1,271.7 L1109.0,282.6 L1090.8,271.7 L1076.3,264.4 L1063.6,279.0 L1054.5,288.0 L1036.3,279.0 L1032.7,297.1 L1018.2,297.1 L1000.0,288.0Z" fill="rgb(148,148,148)" stroke="rgb(148,148,148)" stroke-width="5" stroke-linejoin="round"/>
<path d="M1000.0,324.3 L1021.8,324.3 L1021.8,344.3 L1000.0,344.3Z" fill="rgb(204,204,204)" stroke="rgb(204,204,204)" stroke-width="0" stroke-linejoin="round"/>
<path d="M1245.1,179.1 L1300.0,179.1 L1300.0,315.3 L1263.3,315.3 L1245.1,279.0 L1236.1,242.6Z" fill="rgb(107,107,107)" stroke="rgb(107,107,107)" stroke-width="5" stroke-linejoin="round"/>
<path d="M1241.5,231.7 L1268.7,231.7 L1268.7,246.3 L1241.5,246.3Z" fill="rgb(217,217,217)" stroke="rgb(217,217,217)" stroke-width="0" stroke-linejoin="round"/>
<path d="M1283.3,188.2 L1300.0,188.2 L1300.0,224.5 L1283.3,224.5Z" fill="rgb(217,217,217)" stroke="rgb(217,217,217)" stroke-width="0" stroke-linejoin="round"/>
<path d="M1263.3,279.0 L1290.5,279.0 L1290.5,300.7 L1263.3,300.7Z" fill="rgb(204,204,204)" stroke="rgb(204,204,204)" stroke-width="0" stroke-linejoin="round"/>
<path d="M934.5,114.5 L945.4,105.4 L961.7,101.8 L974.4,107.3 L989.0,114.5 L1003.5,110.9 L1014.4,118.2 L1007.1,123.6 L999.8,130.9 L998.0,143.6 L1010.7,139.9 L1023.5,136.3 L1039.8,139.9 L1048.9,152.7 L1052.5,169.0 L1061.6,170.8 L1072.5,163.6 L1079.7,169.0 L1094.3,172.6 L1107.0,165.4 L1116.1,159.9 L1125.1,154.5 L1134.2,147.2 L1145.1,145.4 L1152.4,152.7 L1163.3,145.4 L1172.4,136.3 L1180.0,132.7 L1180.0,159.9 L1163.3,172.6 L1148.7,183.5 L1143.3,198.1 L1145.1,212.6 L1137.9,227.1 L1130.6,238.0 L1123.3,252.5 L1116.1,263.4 L1112.4,274.3 L1101.5,274.3 L1094.3,263.4 L1079.7,259.8 L1068.9,267.1 L1061.6,281.6 L1050.7,274.3 L1043.4,263.4 L1034.3,274.3 L1028.9,288.9 L1021.6,281.6 L1018.0,270.7 L1007.1,263.4 L996.2,259.8 L989.0,270.7 L978.1,278.0 L967.2,270.7 L956.3,274.3 L949.0,263.4 L941.7,256.2 L932.7,259.8 L927.2,248.9 L916.3,241.6 L909.1,230.7 L916.3,223.5 L927.2,227.1 L934.5,219.8 L939.9,209.0 L941.7,198.1 L949.0,190.8 L945.4,179.9 L938.1,172.6 L934.5,161.7 L941.7,154.5 L938.1,143.6 L932.7,132.7 L930.8,121.8Z" fill="rgb(168,168,168)" stroke="rgb(168,168,168)" stroke-width="5" stroke-linejoin="round"/>
<path d="M934.5,114.5 L945.4,105.4 L961.7,101.8 L974.4,107.3 L989.0,114.5 L1003.5,110.9 L1014.4,118.2 L1007.1,123.6 L999.8,130.9 L998.0,143.6 L1010.7,139.9 L1023.5,136.3 L1036.2,141.8 L1043.4,154.5 L1039.8,172.6 L1043.4,185.3 L1036.2,198.1 L1028.9,209.0 L1036.2,216.2 L1043.4,227.1 L1039.8,241.6 L1036.2,256.2 L1025.3,263.4 L1018.0,270.7 L1007.1,263.4 L996.2,259.8 L989.0,270.7 L978.1,278.0 L967.2,270.7 L956.3,274.3 L949.0,263.4 L941.7,256.2 L932.7,259.8 L927.2,248.9 L916.3,241.6 L909.1,230.7 L916.3,223.5 L927.2,227.1 L934.5,219.8 L939.9,209.0 L941.7,198.1 L949.0,190.8 L945.4,179.9 L938.1,172.6 L934.5,161.7 L941.7,154.5 L938.1,143.6 L932.7,132.7 L930.8,121.8Z" fill="rgb(217,217,217)" stroke="rgb(217,217,217)" stroke-width="5" stroke-linejoin="round"/>
<path d="M1038.0,245.3 L1052.5,239.8 L1065.2,232.6 L1067.0,218.0 L1072.5,210.8 L1085.2,203.5 L1094.3,198.1 L1108.8,192.6 L1119.7,190.8 L1127.0,183.5 L1137.9,176.3 L1145.1,167.2 L1152.4,154.5 L1163.3,159.9 L1156.0,176.3 L1145.1,190.8 L1134.2,201.7 L1121.5,209.0 L1107.0,212.6 L1094.3,219.8 L1083.4,227.1 L1076.1,238.0 L1065.2,248.9 L1050.7,256.2 L1039.8,256.2Z" fill="rgb(224,224,224)" stroke="rgb(224,224,224)" stroke-width="5" stroke-linejoin="round"/>
<path d="M981.7,154.5 L989.0,161.7 L1003.5,176.3 L1010.7,185.3 L1007.1,189.0 L996.2,179.9 L983.5,167.2 L978.1,158.1Z" fill="rgb(128,128,128)" stroke="rgb(128,128,128)" stroke-width="0" stroke-linejoin="round"/>
<path d="M989.0,118.2 L999.8,123.6 L1005.3,127.2 L1001.7,130.9 L992.6,125.4 L987.1,121.8Z" fill="rgb(128,128,128)" stroke="rgb(128,128,128)" stroke-width="0" stroke-linejoin="round"/>
<path d="M1007.1,145.4 L1021.6,139.9 L1036.2,143.6 L1047.1,154.5 L1050.7,169.0 L1047.1,179.9 L1039.8,190.8 L1032.5,187.2 L1036.2,176.3 L1036.2,163.6 L1028.9,154.5 L1018.0,152.7Z" fill="rgb(153,153,153)" stroke="rgb(153,153,153)" stroke-width="0" stroke-linejoin="round"/>
<path d="M1043.4,185.3 L1054.3,176.3 L1068.9,172.6 L1079.7,172.6 L1072.5,183.5 L1061.6,190.8 L1050.7,198.1 L1039.8,201.7Z" fill="rgb(115,115,115)" stroke="rgb(115,115,115)" stroke-width="0" stroke-linejoin="round"/>
<path d="M1072.5,147.2 L1097.9,136.3 L1112.4,127.2 L1127.0,130.9 L1130.6,141.8 L1116.1,154.5 L1105.2,159.9 L1094.3,169.0 L1079.7,165.4Z" fill="rgb(128,128,128)" stroke="rgb(128,128,128)" stroke-width="0" stroke-linejoin="round"/>
<path d="M903.6,178.1 L916.3,172.6 L934.5,176.3 L939.9,190.8 L939.9,209.0 L930.8,223.5 L919.9,219.8 L909.1,209.0 L905.4,194.4Z" fill="rgb(140,140,140)" stroke="rgb(140,140,140)" stroke-width="0" stroke-linejoin="round"/>
<path d="M1068.9,216.2 L1079.7,209.0 L1087.0,216.2 L1079.7,227.1 L1070.7,227.1Z" fill="rgb(140,140,140)" stroke="rgb(140,140,140)" stroke-width="0" stroke-linejoin="round"/>
<path d="M1105.2,212.6 L1116.1,201.7 L1121.5,209.0 L1114.2,223.5 L1107.0,225.3Z" fill="rgb(140,140,140)" stroke="rgb(140,140,140)" stroke-width="0" stroke-linejoin="round"/>
<path d="M925,75 L940,62 L955,75 L975,95 L1000,108 L1015,120 L1005,135 L985,128 L960,115 L940,100Z" fill="rgb(204,204,204)" stroke="rgb(204,204,204)" stroke-width="5" stroke-linejoin="round"/>
<path d="M1198.0,65.4 L1225.3,70.9 L1221.6,101.8 L1243.4,96.3 L1258.0,87.2 L1272.5,107.2 L1261.6,119.9 L1267.0,138.1 L1243.4,119.9 L1225.3,114.5 L1207.1,107.2 L1199.8,92.7Z" fill="rgb(76,76,76)" stroke="rgb(76,76,76)" stroke-width="0" stroke-linejoin="round"/>
<path d="M928.9,270.0 L1034.2,270.0 L1034.2,284.5 L1021.5,288.2 L1016.1,306.3 L1007.0,324.5 L1005.2,342.6 L979.7,357.2 L970.7,346.3 L958.0,335.4 L943.4,329.9 L936.2,317.2 L943.4,306.3 L947.1,288.2 L936.2,277.3Z" fill="rgb(140,140,140)" stroke="rgb(140,140,140)" stroke-width="5" stroke-linejoin="round"/>
<path d="M947.1,275.4 L961.6,271.8 L979.7,273.6 L997.9,271.8 L1007.0,277.3 L997.9,288.2 L988.8,295.4 L979.7,306.3 L970.7,315.4 L958.0,320.8 L954.3,313.6 L961.6,302.7 L970.7,291.8 L958.0,286.3 L948.9,284.5Z" fill="rgb(217,217,217)" stroke="rgb(217,217,217)" stroke-width="0" stroke-linejoin="round"/>
<path d="M1012.4,270.0 L1034.2,270.0 L1034.2,282.7 L1023.3,286.3 L1014.2,279.1Z" fill="rgb(230,230,230)" stroke="rgb(230,230,230)" stroke-width="0" stroke-linejoin="round"/>
<path d="M908.9,335.4 L921.6,333.6 L934.3,337.2 L943.4,333.6 L954.3,337.2 L965.2,342.6 L972.5,346.3 L976.1,355.3 L968.9,364.4 L961.6,371.7 L954.3,379.0 L948.9,386.2 L939.8,386.2 L932.5,382.6 L936.2,371.7 L943.4,362.6 L936.2,355.3 L925.3,349.9 L916.2,342.6Z" fill="rgb(242,242,242)" stroke="rgb(242,242,242)" stroke-width="5" stroke-linejoin="round"/>
<path d="M972.5,339.0 L988.8,339.0 L1005.2,342.6 L1016.1,339.0 L1014.2,348.1 L1003.4,355.3 L994.3,364.4 L987.0,379.0 L979.7,379.0 L979.7,364.4 L976.1,355.3Z" fill="rgb(128,128,128)" stroke="rgb(128,128,128)" stroke-width="0" stroke-linejoin="round"/>
<path d="M905.3,360.8 L921.6,364.4 L925.3,375.3 L918.0,379.0 L907.1,371.7Z" fill="rgb(102,102,102)" stroke="rgb(102,102,102)" stroke-width="0" stroke-linejoin="round"/>
<path d="M907.1,382.6 L918.0,389.8 L919.8,404.4 L925.3,408.0 L927.1,415.3 L923.5,424.3 L919.8,429.8 L925.3,433.4 L934.3,429.8 L939.8,424.3 L941.6,433.4 L936.2,440.7 L925.3,442.5 L919.8,437.1 L916.2,426.2 L918.0,415.3 L914.4,402.6 L910.7,393.5Z" fill="rgb(255,255,255)" stroke="rgb(255,255,255)" stroke-width="0" stroke-linejoin="round"/>
<path d="M919.8,429.8 L925.3,433.4 L934.3,429.8 L939.8,424.3 L941.6,433.4 L936.2,440.7 L925.3,442.5 L919.8,437.1Z" fill="rgb(204,204,204)" stroke="rgb(204,204,204)" stroke-width="0" stroke-linejoin="round"/>
<path d="M1003.4,408.0 L1014.2,397.1 L1030.6,382.6 L1052.4,371.7 L1080.0,360.8 L1080.0,451.6 L1052.4,444.3 L1034.2,442.5 L1016.1,433.4 L1001.5,426.2Z" fill="rgb(115,115,115)" stroke="rgb(115,115,115)" stroke-width="5" stroke-linejoin="round"/>
<path d="M1014.2,400.7 L1023.3,393.5 L1034.2,388.0 L1045.1,386.2 L1056.0,379.0 L1070.5,373.5 L1080.0,368.1 L1080.0,444.3 L1070.5,440.7 L1059.6,438.9 L1052.4,433.4 L1041.5,437.1 L1037.9,429.8 L1027.0,424.3 L1016.1,422.5 L1014.2,415.3 L1021.5,409.8Z" fill="rgb(199,199,199)" stroke="rgb(199,199,199)" stroke-width="5" stroke-linejoin="round"/>
<path d="M1103.6,277.3 L1116.3,270.0 L1132.7,270.0 L1127.2,275.4 L1116.3,280.9 L1107.2,282.7Z" fill="rgb(217,217,217)" stroke="rgb(217,217,217)" stroke-width="0" stroke-linejoin="round"/>
<path d="M1080.0,368.1 L1090.9,366.2 L1100.0,369.9 L1090.9,377.1 L1083.6,386.2 L1092.7,386.2 L1090.9,393.5 L1080.0,400.7Z" fill="rgb(230,230,230)" stroke="rgb(230,230,230)" stroke-width="0" stroke-linejoin="round"/>
<path d="M1261.6,290.0 L1272.5,280.9 L1283.4,277.3 L1290.6,284.5 L1285.2,295.4 L1279.7,306.3 L1274.3,306.3 L1276.1,297.2 L1265.2,295.4Z" fill="rgb(217,217,217)" stroke="rgb(217,217,217)" stroke-width="0" stroke-linejoin="round"/>
<path d="M1296.1,293.6 L1307.0,290.0 L1312.4,297.2 L1303.4,306.3 L1296.1,308.1Z" fill="rgb(217,217,217)" stroke="rgb(217,217,217)" stroke-width="0" stroke-linejoin="round"/>
<path d="M1179.9,297.2 L1225.3,297.2 L1225.3,315.4 L1179.9,315.4Z" fill="rgb(89,89,89)" stroke="rgb(89,89,89)" stroke-width="0" stroke-linejoin="round"/>
<path d="M1261.6,339.0 L1285.2,339.0 L1285.2,349.9 L1261.6,349.9Z" fill="rgb(89,89,89)" stroke="rgb(89,89,89)" stroke-width="0" stroke-linejoin="round"/>
<path d="M1270.7,340.8 L1283.4,340.8 L1283.4,346.3 L1270.7,346.3Z" fill="rgb(153,153,153)" stroke="rgb(153,153,153)" stroke-width="0" stroke-linejoin="round"/>
<path d="M1094.5,348.1 L1134.5,348.1 L1134.5,366.2 L1094.5,366.2Z" fill="rgb(102,102,102)" stroke="rgb(102,102,102)" stroke-width="0" stroke-linejoin="round"/>
<path d="M1356.0,429.8 L1380.0,429.8 L1380.0,451.6 L1356.0,451.6Z" fill="rgb(128,128,128)" stroke="rgb(128,128,128)" stroke-width="0" stroke-linejoin="round"/>
<path d="M1149.0,469.7 L1161.7,469.7 L1161.7,479.9 L1149.0,479.9Z" fill="rgb(204,204,204)" stroke="rgb(204,204,204)" stroke-width="0" stroke-linejoin="round"/>
<path d="M1306.3,180.4 L1334.2,180.4 L1334.2,207.1 L1306.3,207.1Z" fill="rgb(140,140,140)" stroke="rgb(140,140,140)" stroke-width="0" stroke-linejoin="round"/>
<path d="M1282.1,185.3 L1301.5,185.3 L1301.5,209.5 L1282.1,209.5Z" fill="rgb(178,178,178)" stroke="rgb(178,178,178)" stroke-width="0" stroke-linejoin="round"/>
<path d="M1272.4,214.3 L1296.7,214.3 L1296.7,233.7 L1272.4,233.7Z" fill="rgb(166,166,166)" stroke="rgb(166,166,166)" stroke-width="0" stroke-linejoin="round"/>
<path d="M1243.4,231.3 L1282.1,231.3 L1282.1,257.9 L1243.4,257.9Z" fill="rgb(191,191,191)" stroke="rgb(191,191,191)" stroke-width="0" stroke-linejoin="round"/>
<path d="M1272.4,272.4 L1291.8,272.4 L1291.8,296.7 L1272.4,296.7Z" fill="rgb(178,178,178)" stroke="rgb(178,178,178)" stroke-width="0" stroke-linejoin="round"/>
<path d="M1287.0,291.8 L1311.2,291.8 L1311.2,306.3 L1287.0,306.3Z" fill="rgb(178,178,178)" stroke="rgb(178,178,178)" stroke-width="0" stroke-linejoin="round"/>
<path d="M1390.6,422.0 L1399.0,422.0 L1399.0,441.4 L1390.6,441.4Z" fill="rgb(140,140,140)" stroke="rgb(140,140,140)" stroke-width="0" stroke-linejoin="round"/>
<path d="M1403.9,405.1 L1408.7,405.1 L1408.7,414.7 L1403.9,414.7Z" fill="rgb(204,204,204)" stroke="rgb(204,204,204)" stroke-width="0" stroke-linejoin="round"/>
<path d="M1136.3,475.3 L1155.7,465.6 L1165.4,480.1 L1160.5,504.3 L1146.0,518.9 L1136.3,514.0Z" fill="rgb(115,115,115)" stroke="rgb(115,115,115)" stroke-width="0" stroke-linejoin="round"/>
<path d="M1143.6,480.1 L1155.7,475.3 L1159.3,487.4 L1155.7,497.1 L1146.0,499.5 L1141.2,492.2Z" fill="rgb(217,217,217)" stroke="rgb(217,217,217)" stroke-width="0" stroke-linejoin="round"/>
<path d="M962.1,490.5 L986.3,478.4 L1005.7,493.0 L1005.7,509.9 L986.3,519.6 L967.0,512.3Z" fill="rgb(102,102,102)" stroke="rgb(102,102,102)" stroke-width="0" stroke-linejoin="round"/>
<path d="M531,413 L552,410 L556,428 L536,432Z" fill="rgb(102,102,102)" stroke="rgb(102,102,102)" stroke-width="0" stroke-linejoin="round"/>
<path d="M677,355 L761,300 L790,330 L770,436 L700,440Z" fill="rgb(31,31,31)" stroke="rgb(31,31,31)" stroke-width="0" stroke-linejoin="round"/>
<path d="M685.9,280.1 L705.3,275.3 L715.0,289.8 L705.3,304.3 L688.3,304.3Z" fill="rgb(102,102,102)" stroke="rgb(102,102,102)" stroke-width="0" stroke-linejoin="round"/>
</g>
<g filter="url(#b14)" fill="#d4f41c">
<ellipse cx="590" cy="930" rx="95" ry="55" transform="rotate(-25,590,930)" fill-opacity="0.28"/>
<ellipse cx="578" cy="914" rx="42" ry="17" transform="rotate(-25,578,914)" fill-opacity="0.4"/>
<ellipse cx="616" cy="956" rx="46" ry="26" transform="rotate(-25,616,956)" fill-opacity="0.4"/>
<ellipse cx="482" cy="918" rx="30" ry="18" transform="rotate(-25,482,918)" fill-opacity="0.2"/>
<ellipse cx="473" cy="853" rx="28" ry="16" transform="rotate(-25,473,853)" fill-opacity="0.15"/>
</g>
<rect x="-1200" y="-200" width="3200" height="2600" transform="rotate(-38)" filter="url(#streak)" opacity="0.16"/>
</g>
<g clip-path="url(#land)" fill="none" stroke="#3f4b52" stroke-width="2" stroke-linejoin="round" opacity="0.9">
<path d="M665.1,381.5 L654.8,389.3 L645.3,403.7 L648.1,420.5 L659.0,430.9 L657.1,443.6 L660.8,456.3 L659.0,472.7 L666.2,479.9 L662.6,492.6 L669.8,499.9 L671.7,510.8 L677.1,518.1 L675.3,527.1 L684.4,529.0 L695.3,530.8 L698.9,539.8 L704.3,547.1 L708.0,554.4 L704.3,561.6 L698.9,565.3"/>
<path d="M698.9,565.3 L691.6,570.7 L684.4,570.7 L677.1,578.0 L666.2,583.4 L659.0,579.8 L651.7,574.3 L640.8,578.0 L633.5,572.5 L622.6,565.3 L619.0,554.4 L604.5,550.7 L593.6,554.4 L589.9,565.3 L591.8,579.8 L579.1,576.2 L568.2,579.8 L560.9,574.3 L550.0,572.5 L528.2,576.2 L495.5,570.7 L462.8,574.3 L441.0,565.3 L419.3,563.5"/>
<path d="M698.9,565.3 L708.0,561.6 L718.9,554.4 L728.0,543.5 L737.0,547.1 L746.1,550.7 L753.4,556.2 L764.3,554.4 L771.5,547.1 L777.0,541.7 L786.1,539.8"/>
<path d="M698.9,565.3 L700.7,572.5 L708.0,579.8 L713.4,587.1 L717.1,594.3 L724.3,601.6 L729.8,608.9 L724.3,617.9 L722.5,629.9 L713.4,643.4 L718.9,656.1 L709.8,663.3"/>
<path d="M773.1,276.5 L780.3,285.0 L782.8,297.1 L773.1,294.6 L765.8,301.9 L763.4,314.0 L775.5,318.9 L773.1,328.5 L763.4,331.0 L761.0,340.7 L758.5,352.8 L751.3,357.6 L753.7,367.3 L763.4,372.1 L765.8,386.7 L768.2,401.2 L765.8,415.7 L770.7,425.4 L768.2,439.9 L773.1,454.5 L792.4,464.1 L802.1,454.5 L807.0,444.8 L811.8,439.9 L826.3,432.7 L838.5,430.2 L850.6,435.1 L857.8,432.7 L865.1,439.9 L872.3,447.2 L884.5,442.3 L899.0,444.8 L906.2,454.5 L908.7,474.1"/>
<path d="M809.0,429.1 L810.8,458.2 L801.7,460.0 L798.1,476.3 L799.9,492.7 L794.4,501.7 L796.2,512.6 L790.8,521.7 L789.0,536.2 L781.7,541.7 L772.6,543.5"/>
<path d="M700.0,567.1 L707.3,574.4 L714.5,583.5 L720.0,594.3 L727.2,603.4 L723.6,614.3 L716.3,621.6 L714.5,628.9 L723.6,636.1 L732.7,639.7 L741.8,643.4 L752.7,636.1 L756.3,649.9 L759.9,657.9"/>
<path d="M805.3,490.8 L816.2,494.5 L819.8,512.6 L827.1,519.9 L830.7,530.8 L836.2,538.1 L843.5,541.7 L850.7,552.6 L848.9,563.5 L850.7,572.6 L856.2,578.0 L863.4,574.4 L874.3,572.6 L881.6,578.0 L883.4,583.5"/>
<path d="M810.8,458.2 L827.1,450.9 L838.0,449.1 L845.3,440.0"/>
<path d="M899.7,440.0 L907.0,450.9 L908.8,463.6 L905.2,476.3 L896.1,487.2 L887.0,490.8 L874.3,509.0 L868.9,519.9 L856.2,521.7 L850.7,527.2 L852.5,534.4"/>
<path d="M810.0,235.0 L815.0,250.0 L830.0,260.0 L850.0,270.0 L870.0,260.0 L890.0,250.0"/>
<path d="M890.0,250.0 L898.2,254.3 L914.5,239.8 L923.6,248.9 L939.9,245.3 L961.7,238.0 L978.1,234.4 L987.1,230.7 L992.6,238.0 L1003.5,232.6 L1010.7,223.5 L1021.6,221.7 L1032.5,228.9 L1036.2,238.0 L1038.0,245.3"/>
<path d="M1038.0,245.3 L1052.5,239.8 L1065.2,232.6 L1067.0,218.0 L1072.5,210.8 L1085.2,203.5 L1094.3,198.1 L1108.8,192.6 L1119.7,190.8 L1127.0,183.5 L1137.9,176.3 L1145.1,167.2 L1152.4,154.5 L1152.4,150.8"/>
<path d="M1038.0,245.3 L1032.5,252.5 L1025.3,259.8 L1028.9,270.7 L1019.8,276.1 L1018.0,285.2 L1023.5,296.1 L1016.2,301.6 L1014.4,309.9"/>
<path d="M1014.4,309.9 L1012.4,311.8 L1003.4,322.7 L1007.0,333.6 L1008.8,342.6 L1001.5,349.9"/>
<path d="M1001.5,349.9 L994.3,355.3 L981.6,359.0 L976.1,368.1 L974.3,379.0 L970.7,389.8 L963.4,397.1 L961.6,404.4 L967.0,411.6 L958.0,409.8 L950.7,404.4 L943.4,398.9 L934.3,398.9 L927.1,406.2 L927.1,415.3 L932.5,424.3 L936.2,431.6 L925.3,437.1 L918.0,437.1 L910.7,444.3 L903.5,449.8 L896.2,438.9 L881.7,440.7 L874.4,446.1 L865.3,440.7 L859.9,433.4 L849.0,433.4 L834.5,428.0 L825.4,433.4 L809.1,438.9 L807.2,451.6 L810.9,460.7 L801.8,466.1 L800.0,479.9"/>
<path d="M1001.5,349.9 L1003.4,360.8 L1005.2,373.5 L1008.8,384.4 L1016.1,391.7 L1023.3,397.1 L1034.2,398.9 L1041.5,404.4 L1052.4,408.0"/>
<path d="M1052.4,408.0 L1063.3,404.4 L1070.5,406.2 L1080.0,402.6"/>
<path d="M1080.0,400.7 L1098.2,397.1 L1112.7,389.8 L1123.6,384.4 L1134.5,386.2 L1145.4,389.8 L1152.6,386.2 L1167.2,386.2"/>
<path d="M1052.4,408.0 L1052.4,415.3 L1046.9,428.0 L1037.9,438.9 L1041.5,451.6 L1048.7,460.7 L1057.8,466.1 L1061.5,479.9"/>
<path d="M1037.2,437.3 L1044.5,454.2 L1059.0,463.9 L1056.6,483.3 L1051.7,502.6 L1059.0,519.6 L1066.2,531.7 L1068.7,539.0"/>
<path d="M1167.2,386.2 L1170.8,379.0 L1181.7,368.1 L1196.2,364.4 L1196.2,353.5 L1187.1,344.5 L1192.6,331.7 L1207.1,328.1 L1218.0,315.4 L1225.3,302.7 L1228.9,293.6 L1239.8,280.9 L1250.7,270.0"/>
<path d="M1252.4,273.5 L1254.2,257.2 L1252.4,242.6 L1266.9,242.6 L1274.2,240.8"/>
<path d="M1167.2,386.2 L1174.4,389.8 L1181.7,404.4 L1196.2,411.6 L1203.5,418.9 L1203.5,429.8 L1198.0,440.7 L1201.7,451.6"/>
<path d="M1196.2,364.4 L1207.1,366.2 L1221.6,369.9 L1234.3,377.1 L1243.4,382.6 L1254.3,382.6 L1265.2,377.1 L1272.5,371.7 L1279.7,366.2 L1281.6,379.0 L1277.9,393.5 L1276.1,408.0 L1279.7,418.9 L1285.2,428.0 L1292.5,433.4"/>
<path d="M643.9,892.0 L636.7,906.5 L622.1,916.2 L612.4,925.9 L597.9,928.3 L588.2,935.6 L578.5,942.9 L564.0,940.4 L559.2,933.2 L551.9,935.6 L554.3,945.3 L544.6,950.1 L547.1,964.6 L549.5,974.3 L539.8,981.6 L525.3,980.4 L515.6,986.4 L512.0,993.7"/>
<path d="M396.9,747.1 L416.3,749.5 L433.3,747.1 L443.0,735.0 L459.9,730.1 L464.7,739.8 L469.6,725.3 L464.7,710.8 L474.4,698.6 L481.7,684.1 L501.1,680.5 L515.6,684.1 L525.3,684.1 L535.0,693.8 L537.4,705.9 L530.1,718.0 L535.0,725.3 L549.5,715.6 L564.0,708.3 L573.7,703.5 L585.8,705.9 L593.1,712.0"/>
</g>
<g stroke="#1c3028" stroke-width="2.2" stroke-linejoin="round" fill="none">
<path d="M775.4,155.3 L780.0,153.5 L787.2,158.9 L795.4,158.0 L799.0,154.4 L804.5,139.8 L805.4,129.0 L800.9,119.9 L805.4,109.9 L809.0,108.1 L814.5,114.4 L818.1,118.1 L822.6,113.5 L830.8,109.0 L839.9,107.2 L850.8,109.0 L856.2,103.5 L854.4,98.1 L861.7,98.1 L870.8,99.9 L878.0,94.5 L879.8,88.1 L887.1,86.3 L894.4,88.1 L901.6,82.6 L910.7,80.8 L917.1,76.3 L923.4,74.5 L927.1,67.2 L934.3,60.9 L941.6,62.7 L946.1,69.0 L945.2,76.3 L948.9,85.4 L952.5,92.6 L961.6,98.1 L965.2,100.8 L968.8,98.1 L976.1,105.3 L977.9,109.0 L987.0,109.0 L994.2,107.2 L1003.3,109.0 L1008.8,114.4 L1016.9,119.9 L1010.6,124.4 L1005.1,124.4 L1001.5,132.6 L997.9,141.7 L1001.5,143.5 L1010.6,139.8 L1021.5,134.4 L1028.7,138.0 L1037.8,139.8 L1046.9,138.0 L1050.5,143.5 L1046.9,150.7 L1050.5,158.0 L1054.2,165.3 L1054.5,172.0 L1063.0,168.3 L1071.5,165.9 L1073.9,158.6 L1072.7,146.5 L1080.0,142.9 L1088.4,149.0 L1094.5,151.4 L1100.5,139.3 L1110.2,127.2 L1118.7,123.5 L1126.0,129.6 L1128.4,140.5 L1135.6,140.5 L1146.5,141.7 L1153.8,151.4 L1161.1,144.1 L1168.3,129.6 L1172.0,117.5 L1182.9,107.8 L1195.0,95.7 L1202.2,86.0 L1199.8,78.7 L1205.9,69.1 L1210.7,66.2 L1215.5,73.9 L1221.6,78.7 L1220.4,88.4 L1216.8,98.1 L1209.5,99.3 L1207.1,103.0 L1214.3,106.6 L1224.0,111.4 L1233.7,112.6 L1241.0,104.2 L1248.2,94.5 L1255.5,89.6 L1262.8,98.1 L1270.0,105.4 L1268.8,112.6 L1262.8,117.5 L1261.5,124.7 L1266.4,133.2 L1268.8,141.7 L1276.1,147.7 L1278.5,153.8 L1287.0,159.9 L1294.2,165.9 L1300.3,172.0 L1306.3,179.2 L1316.0,181.6 L1326.9,179.2 L1334.2,184.1 L1333.0,192.5 L1328.1,197.4 L1329.3,207.1 L1322.1,207.1 L1318.5,202.2 L1308.8,204.6 L1300.3,214.3 L1295.4,226.4 L1287.0,236.1 L1279.7,241.0 L1282.1,248.2 L1289.4,255.5 L1291.8,262.8 L1287.0,270.0 L1287.0,282.1 L1289.4,289.4 L1284.6,296.7 L1289.4,299.1 L1299.1,294.2 L1306.3,290.6 L1313.6,296.7 L1320.9,306.3 L1330.6,307.6 L1339.0,313.6 L1343.9,318.5 L1357.2,317.2 L1360.8,324.5 L1357.2,329.3 L1362.0,340.2 L1371.7,345.1 L1379.0,352.3 L1388.7,354.8 L1395.9,362.0 L1403.2,371.7 L1402.7,370.0 L1406.3,380.8 L1407.5,393.0 L1413.6,401.4 L1407.5,412.3 L1403.9,422.0 L1397.8,429.3 L1397.8,441.4 L1391.8,451.1 L1389.3,464.4 L1376.0,466.8 L1368.8,464.4 L1368.8,455.9 L1357.9,451.1 L1351.8,443.8 L1349.4,434.1 L1342.1,426.9 L1330.0,425.6 L1315.5,429.3 L1303.4,434.1 L1296.1,437.7 L1288.9,443.8 L1276.8,451.1 L1264.6,455.9 L1255.0,462.0 L1245.3,469.2 L1235.6,474.1 L1223.5,476.5 L1213.8,472.9 L1211.4,476.5 L1207.7,469.2 L1213.8,464.4 L1211.4,457.1 L1206.5,460.8 L1201.7,451.1 L1196.9,442.6 L1187.2,441.4 L1177.5,443.8 L1170.2,445.0 L1164.2,437.7 L1158.1,440.2 L1164.2,448.6 L1169.0,455.9 L1179.9,463.2 L1189.6,465.6 L1196.9,468.0 L1201.7,472.9 L1195.6,478.9 L1193.2,487.4 L1184.7,494.6 L1194.4,501.9 L1179.9,503.1 L1165.4,508.0 L1155.7,515.2 L1152.1,523.7 L1152.1,534.6 L1144.8,539.4 L1140.0,544.3 L1136.3,537.0 L1129.1,532.2 L1124.2,535.8 L1114.5,539.4 L1104.8,543.1 L1109.8,542.6 L1102.6,546.2 L1095.3,541.4 L1083.2,543.8 L1075.9,548.6 L1068.7,542.6 L1061.4,539.0 L1054.1,541.4 L1044.5,548.6 L1032.3,560.8 L1020.2,570.4 L1010.6,577.7 L1003.3,575.3 L998.5,585.0 L993.6,582.5 L992.4,574.1 L996.0,572.9 L1003.3,568.0 L1008.1,560.8 L1000.9,553.5 L991.2,555.9 L986.3,551.1 L976.7,548.6 L969.4,548.6 L971.8,551.1 L981.5,553.5 L985.1,558.3 L974.2,562.0 L962.1,564.4 L950.0,565.6 L937.9,568.0 L928.2,568.0 L918.5,571.6 L908.9,575.3 L899.2,580.1 L889.5,582.5 L879.8,586.2 L870.1,587.4 L860.4,592.2 L850.8,597.1 L841.1,597.1 L831.4,595.9 L821.7,594.6 L812.0,594.6 L802.3,599.5 L792.6,606.8 L785.4,616.4 L780.5,623.7 L780.0,621.2 L772.3,633.3 L765.0,645.4 L757.7,657.5 L748.0,664.7 L735.9,666.0 L723.8,666.0 L714.1,669.6 L704.5,667.2 L694.8,670.8 L687.5,675.6 L682.7,672.0 L679.0,662.3 L682.7,652.6 L676.6,645.4 L680.2,635.7 L685.1,630.8 L677.8,626.0 L675.4,616.3 L680.2,606.6 L674.2,601.8 L668.1,594.5 L660.9,587.3 L658.5,580.0 L663.3,589.7 L669.3,606.6 L670.6,618.7 L666.9,628.4 L670.6,638.1 L674.2,650.2 L676.6,662.3 L674.2,674.4 L670.6,684.1 L668.1,693.8 L658.5,701.1 L646.3,705.9 L636.7,709.5 L622.1,714.4 L610.0,718.0 L605.2,727.7 L601.5,737.4 L597.9,725.3 L595.5,710.8 L591.9,712.0 L590.7,722.9 L588.2,735.0 L584.6,747.1 L578.5,759.2 L576.1,766.4 L578.5,776.1 L579.8,785.8 L583.4,797.9 L585.8,809.7 L582.2,816.9 L593.1,814.5 L602.8,813.3 L612.4,816.9 L622.1,816.9 L631.8,814.5 L640.3,818.2 L648.8,823.0 L658.5,825.4 L662.1,833.9 L662.1,846.0 L659.7,858.1 L654.8,870.2 L648.8,863.0 L642.7,855.7 L639.1,843.6 L636.7,860.5 L641.5,872.6 L631.8,881.1 L627.0,888.4 L629.4,893.2 L642.7,887.2 L646.3,893.2 L656.0,896.9 L660.9,899.3 L670.6,893.2 L682.7,889.6 L688.7,886.0 L694.8,896.9 L698.4,909.0 L699.6,921.1 L694.8,924.7 L702.0,933.2 L708.1,945.3 L712.9,955.0 L716.6,967.1 L711.7,976.8 L710.5,986.4 L702.0,993.7 L694.8,1005.8 L689.9,1013.1 L680.2,1022.8 L670.6,1030.0 L658.5,1038.5 L646.3,1044.6 L636.7,1051.8 L624.6,1054.2 L620.9,1060.3 L617.3,1054.2 L607.6,1051.8 L597.9,1049.4 L593.1,1054.2 L588.2,1056.7 L583.4,1054.2 L576.1,1051.8 L571.3,1061.5 L559.2,1061.5 L558.0,1054.2 L547.1,1051.8 L537.4,1042.1 L527.7,1042.1 L518.0,1049.4 L512.0,1042.1 L505.9,1042.1 L498.6,1049.4 L491.4,1056.7 L481.7,1068.8 L481.7,1059.1 L486.5,1047.0 L489.0,1034.9 L486.5,1022.8 L479.3,1015.5 L472.0,1013.1 L466.0,998.5 L473.2,993.7 L476.9,986.4 L484.1,986.4 L491.4,993.7 L501.1,996.1 L503.5,1005.8 L505.9,1015.5 L510.8,1013.1 L508.3,1003.4 L515.6,993.7 L518.0,986.4 L510.8,979.2 L504.7,974.3 L501.1,969.5 L496.2,976.8 L492.6,980.4 L490.2,971.9 L489.0,959.8 L485.3,967.1 L486.5,979.2 L482.9,980.4 L479.3,969.5 L472.0,959.8 L462.3,955.0 L450.2,955.0 L446.6,947.7 L443.0,939.2 L450.2,935.6 L449.0,928.3 L443.0,918.6 L435.7,909.0 L428.4,901.7 L422.4,899.3 L416.3,899.3 L416.3,884.7 L423.6,877.5 L433.3,877.5 L428.4,870.2 L421.2,860.5 L416.3,853.3 L420.0,846.0 L422.4,836.3 L420.0,830.3 L411.5,831.5 L410.3,836.3 L406.6,831.5 L399.4,819.4 L392.1,807.3 L389.7,800.3 L387.3,785.8 L388.5,771.3 L392.1,759.2 L396.9,747.1 L401.8,735.0 L396.9,722.9 L392.1,710.8 L395.7,698.6 L403.0,686.5 L411.5,676.9 L420.0,669.6 L424.8,659.9 L427.2,647.8 L428.4,633.3 L427.2,621.2 L423.6,611.5 L429.6,607.8 L434.5,613.9 L445.4,610.3 L459.9,607.8 L474.4,605.4 L481.7,604.2 L479.3,592.1 L481.7,583.0 L489.0,579.4 L485.3,577.0 L481.7,569.7 L485.3,562.4 L479.3,566.1 L467.2,568.5 L455.1,568.5 L444.2,564.9 L438.1,557.6 L439.3,545.5 L434.5,535.8 L428.4,526.1 L430.8,518.9 L423.6,518.9 L420.0,509.2 L417.5,499.5 L422.4,494.6 L424.8,485.0 L429.6,478.9 L432.1,487.4 L438.1,494.6 L443.0,489.8 L455.1,488.6 L467.2,485.0 L476.9,477.7 L481.7,470.4 L484.1,458.3 L490.2,451.1 L493.8,439.0 L492.6,426.9 L495.0,414.7 L498.6,405.1 L508.3,396.6 L518.0,394.2 L530.1,400.2 L539.8,401.4 L549.5,394.2 L553.1,396.6 L560.4,386.9 L566.4,391.7 L573.7,389.3 L588.2,388.1 L597.9,394.2 L612.4,394.2 L622.1,390.5 L627.0,380.8 L633.0,382.1 L640.3,390.5 L651.2,391.7 L663.3,390.5 L665.3,381.8 L659.3,373.3 L666.5,367.3 L673.8,366.1 L681.1,369.7 L673.8,372.1 L666.5,362.4 L656.9,360.0 L650.8,352.8 L653.2,343.1 L652.0,331.0 L649.6,318.9 L648.4,309.2 L654.4,304.3 L653.2,294.6 L649.6,287.4 L641.1,282.5 L644.7,274.1 L650.8,266.8 L656.9,272.9 L661.7,277.7 L667.7,270.4 L671.4,264.4 L678.6,262.0 L688.3,270.4 L696.8,280.1 L702.9,287.4 L710.1,287.4 L717.4,281.3 L722.2,271.6 L729.5,268.0 L739.2,272.9 L744.0,280.1 L753.7,283.8 L763.4,278.9 L773.1,276.5 L770.7,268.0 L765.8,260.8 L762.2,253.5 L765.8,247.4 L773.1,246.2 L779.1,239.0 L785.2,231.7 L791.2,226.9 L796.1,231.7 L804.6,234.1 L813.0,231.7 L814.2,226.9 L809.4,219.6 L805.8,212.3 L799.7,205.1 L792.4,199.0 L786.4,194.2 L787.6,185.7 L785.2,177.2 L786.4,167.5 L779.1,163.9 L776.7,156.6Z"/>
<path d="M1213.8,491.0 L1218.6,487.4 L1228.3,489.8 L1238.0,486.2 L1245.3,482.5 L1251.3,487.4 L1259.8,489.8 L1269.5,487.4 L1279.2,489.8 L1282.8,494.6 L1279.2,499.5 L1269.5,501.9 L1259.8,505.5 L1250.1,504.3 L1240.4,509.2 L1230.8,515.2 L1221.1,521.3 L1211.4,521.3 L1204.1,526.1 L1204.1,521.3 L1211.4,516.4 L1212.6,509.2 L1217.4,499.5Z"/>
<path d="M1318.6,491.0 L1320.8,489.1 L1323.7,490.3 L1322.8,493.4 L1319.9,494.6Z"/>
<path d="M1327.6,503.1 L1329.5,502.4 L1330.5,506.3 L1328.6,507.5Z"/>
<path d="M1342.1,525.6 L1347.0,523.7 L1351.8,526.6 L1353.0,529.0 L1347.0,530.5 L1342.9,529.5Z"/>
<path d="M964.1,599.5 L966.5,596.6 L968.9,597.6 L967.0,601.4 L964.6,602.4Z"/>
<path d="M682.7,676.9 L692.3,673.2 L704.5,670.8 L711.7,675.6 L719.0,674.4 L731.1,670.8 L743.2,669.6 L751.7,670.8 L748.0,684.1 L743.2,696.2 L735.9,708.3 L728.7,715.6 L719.0,714.4 L716.6,705.9 L711.7,698.6 L711.7,691.4 L704.5,693.8 L699.6,690.2 L689.9,689.0 L682.7,686.5 L680.2,681.7Z"/>
<path d="M633.0,725.3 L641.5,724.1 L651.2,721.6 L660.9,716.8 L666.9,716.8 L670.6,725.3 L677.8,731.3 L687.5,732.5 L697.2,731.3 L704.5,725.3 L714.1,722.9 L721.4,725.3 L725.0,735.0 L722.6,747.1 L719.0,759.2 L716.6,773.7 L715.4,783.4 L709.3,784.6 L704.5,776.1 L699.6,766.4 L692.3,756.8 L682.7,754.3 L670.6,754.3 L658.5,756.8 L646.3,760.4 L634.2,764.0 L622.1,767.7 L612.4,770.1 L616.1,761.6 L622.1,753.1 L629.4,744.6 L636.7,739.8 L633.0,732.5Z"/>
<path d="M593.1,766.4 L597.9,761.6 L607.6,765.2 L605.2,770.1 L597.9,772.5 L591.9,774.9Z"/>
<path d="M725.0,793.1 L731.1,785.8 L738.4,777.3 L748.0,774.9 L756.5,778.5 L757.7,785.8 L752.9,793.1 L748.0,802.8 L738.4,807.6 L729.9,806.4 L726.2,799.1Z"/>
<path d="M725.0,1025.2 L731.1,1015.5 L738.4,1005.8 L740.8,1008.2 L734.7,1017.9 L728.7,1025.2Z"/>
<path d="M668.1,877.5 L671.8,871.4 L676.6,873.8 L677.8,881.1 L673.0,883.5Z"/>
<path d="M647.6,881.1 L651.2,879.9 L654.8,886.0 L652.4,888.4Z"/>
</g>
<g fill="#fff" stroke="#1c3028" stroke-width="1.8" stroke-linejoin="round">
<path d="M898.0,551.1 L904.0,546.2 L908.9,542.6 L913.7,544.3 L923.4,548.2 L925.8,554.7 L930.7,562.0 L934.3,567.5 L928.2,564.4 L921.0,558.3 L913.7,557.1 L906.4,560.8 L900.4,557.1Z"/>
<path d="M665.7,913.8 L670.6,906.5 L680.2,904.1 L683.9,913.8 L689.9,925.9 L685.1,928.3 L677.8,923.5 L670.6,921.1Z"/>
</g>
<g stroke="#6c7c7c" stroke-width="1.4" stroke-dasharray="13.7,13.7" fill="none" opacity="0.9">
<path d="M519.4,47.2 L512.6,1126.7"/>
<path d="M896.2,47.2 L896,1126.7"/>
<path d="M1272.6,43 L1280,1126.7"/>
<path d="M260,344.6 Q900,350.2 1579.5,345"/>
<path d="M260,751.3 Q900,755.8 1579.5,749.6"/>
</g>
<rect x="245.8" y="25.6" width="1333.7" height="1101.1000000000001" fill="none" stroke="#000" stroke-width="3"/>
<g stroke="#000" stroke-width="4.4" stroke-linecap="round">
<path d="M519.5,25.6 v6.5"/>
<path d="M896.2,25.6 v6.5"/>
<path d="M1272.6,25.6 v6.5"/>
<path d="M512.6,1126.7 v-6.5"/>
<path d="M896,1126.7 v-6.5"/>
<path d="M1280,1126.7 v-6.5"/>
<path d="M245.8,344.7 h6.5"/>
<path d="M245.8,751.2 h6.5"/>
<path d="M1579.5,345 h-6.5"/>
<path d="M1579.5,749.6 h-6.5"/>
</g>
<g class="cj" font-size="48.3" text-anchor="middle">
<text x="867.2" y="187">信宜</text>
<text x="1192.8" y="270.2">阳春</text>
<text x="843.2" y="352.5">高州</text>
<text x="1266.4" y="389.5">阳江</text>
<text x="860.9" y="430.1">茂名</text>
<text x="629.4" y="476">廉江</text>
<text x="749.4" y="471.6">化州</text>
<text x="891.5" y="513">电白</text>
<text x="823.6" y="569.5">吴川</text>
<text x="607.45" y="569">遂溪</text>
<text x="628.9" y="670.2">湛江</text>
<text x="539" y="749.7">雷州</text>
<text x="573.9" y="1041.5">徐闻</text>
</g>
<path d="M855.4,217.9 L879.9,217.9 L867.6,196.3Z" fill="#000"/>
<path d="M1180.5,300.5 L1205.0,300.5 L1192.8,278.9Z" fill="#000"/>
<path d="M830.4,382.9 L854.9,382.9 L842.6,361.3Z" fill="#000"/>
<path d="M1254.5,420.8 L1279.0,420.8 L1266.8,399.2Z" fill="#000"/>
<path d="M850.3,461.4 L874.7,461.4 L862.5,439.8Z" fill="#000"/>
<path d="M618.6,508.0 L643.0,508.0 L630.8,486.4Z" fill="#000"/>
<path d="M737.2,502.5 L761.6,502.5 L749.4,480.9Z" fill="#000"/>
<path d="M879.4,543.8 L903.8,543.8 L891.6,522.2Z" fill="#000"/>
<path d="M811.2,600.6 L835.7,600.6 L823.5,579.0Z" fill="#000"/>
<path d="M596.3,600.6 L620.8,600.6 L608.5,579.0Z" fill="#000"/>
<path d="M618.0,702.3 L642.5,702.3 L630.2,680.7Z" fill="#000"/>
<path d="M528.6,779.7 L553.0,779.7 L540.8,758.1Z" fill="#000"/>
<path d="M563.5,1072.5 L588.0,1072.5 L575.8,1050.9Z" fill="#000"/>
<g class="lt" font-size="67">
<text x="69.8" y="373" textLength="70.6" lengthAdjust="spacingAndGlyphs">22</text><text x="137.9" y="373">°</text><text transform="translate(171.9,373) scale(0.874,1)">N</text>
<text x="69.8" y="773" textLength="70.6" lengthAdjust="spacingAndGlyphs">21</text><text x="137.9" y="773">°</text><text transform="translate(171.9,773) scale(0.874,1)">N</text>
<text x="430.8" y="1203.2" textLength="99" lengthAdjust="spacingAndGlyphs">110</text><text x="529.3" y="1203.2">°</text><text transform="translate(562.3,1203.2) scale(1.04,1)">E</text>
<text x="817.0" y="1203.2" textLength="99" lengthAdjust="spacingAndGlyphs">111</text><text x="915.5" y="1203.2">°</text><text transform="translate(948.5,1203.2) scale(1.04,1)">E</text>
<text x="1203.3" y="1203.2" textLength="99" lengthAdjust="spacingAndGlyphs">112</text><text x="1301.8" y="1203.2">°</text><text transform="translate(1334.8,1203.2) scale(1.04,1)">E</text>
</g>
<text class="cj" font-size="57.7" transform="translate(900.7,800.5) scale(1,1)">海拔</text>
<text class="lt" font-size="62" transform="translate(1017.5,800.5) scale(1,1)">/</text>
<text class="lt" font-size="53" transform="translate(1035,800.5) scale(1,1)">m</text>
<rect x="920.7" y="835.2" width="58.9" height="120.9" fill="url(#lg)"/>
<g stroke="#a8b4c4" stroke-width="1"><path d="M979.6,835.6 h5"/><path d="M979.6,895.6 h5"/><path d="M979.6,955.8 h5"/></g>
<text class="cj" font-size="57" transform="translate(997.6,863.7) scale(1,1)">高</text>
<text class="cj" font-size="44" transform="translate(1055.2,866.4) scale(1,1)" style="font-weight:900">：</text>
<text class="lt" font-size="56.4" transform="translate(1110.8,861) scale(1.04,1)">1 688</text>
<text class="cj" font-size="57" transform="translate(996,980) scale(1,1)">低</text>
<text class="cj" font-size="44" transform="translate(1055.2,983) scale(1,1)" style="font-weight:900">：</text>
<text class="lt" font-size="56.4" transform="translate(1112.5,977.5) scale(1.08,1)">0</text>
<path d="M940.1,1096.7 L965.1,1096.7 L952.6,1075.1Z" fill="#000"/>
<text class="cj" font-size="58.6" transform="translate(973.1,1100.35) scale(1,1)">气象观测站</text>
<text class="lt" font-size="57.5" transform="translate(1272.6,1048.2) scale(1.08,1)">0</text>
<text class="lt" font-size="57.5" transform="translate(1428.5,1048.2) scale(1.07,1)">50</text>
<text class="lt" font-size="57.5" transform="translate(1502.9,1048.2) scale(0.966,1)">km</text>
<path d="M1286.4,1072.4 V1103.3 H1469.6 V1072.4" fill="none" stroke="#111" stroke-width="1.9"/>
<text class="cj" font-size="66" x="147.5 280.0 348.3 414.8 480.0 547.6 616.8 686.7 751.0 817.2 883.2 949.0 1015.5 1082.0 1148.3 1213.9 1281.4 1347.7 1413.6 1479.5" y="1317">注基于自然资源部标准地图服务网站标准地图</text>
<text class="cj" font-size="62" style="font-weight:900" x="215" y="1320.7">：</text>
<text class="cj" font-size="66" x="38.3 61.9 126.2 191.8 255.0 303.6 333.6 351.9 385.2 418.5 451.8 486.3 505.6 538.9 572.2 605.5 636.1 705.3 723.7 791.9 860.5 923.4 991.7 1061.3 1130.9 1190.9 1262.4 1324.7 1394.3 1453.9 1520.5" y="1399">[审图号GS(2019)1822号]制作，底图边界无修改，下同</text>
<text class="cj" font-size="96" style="font-weight:400" x="1591.6" y="1405.4">。</text>
</svg></body></html>
